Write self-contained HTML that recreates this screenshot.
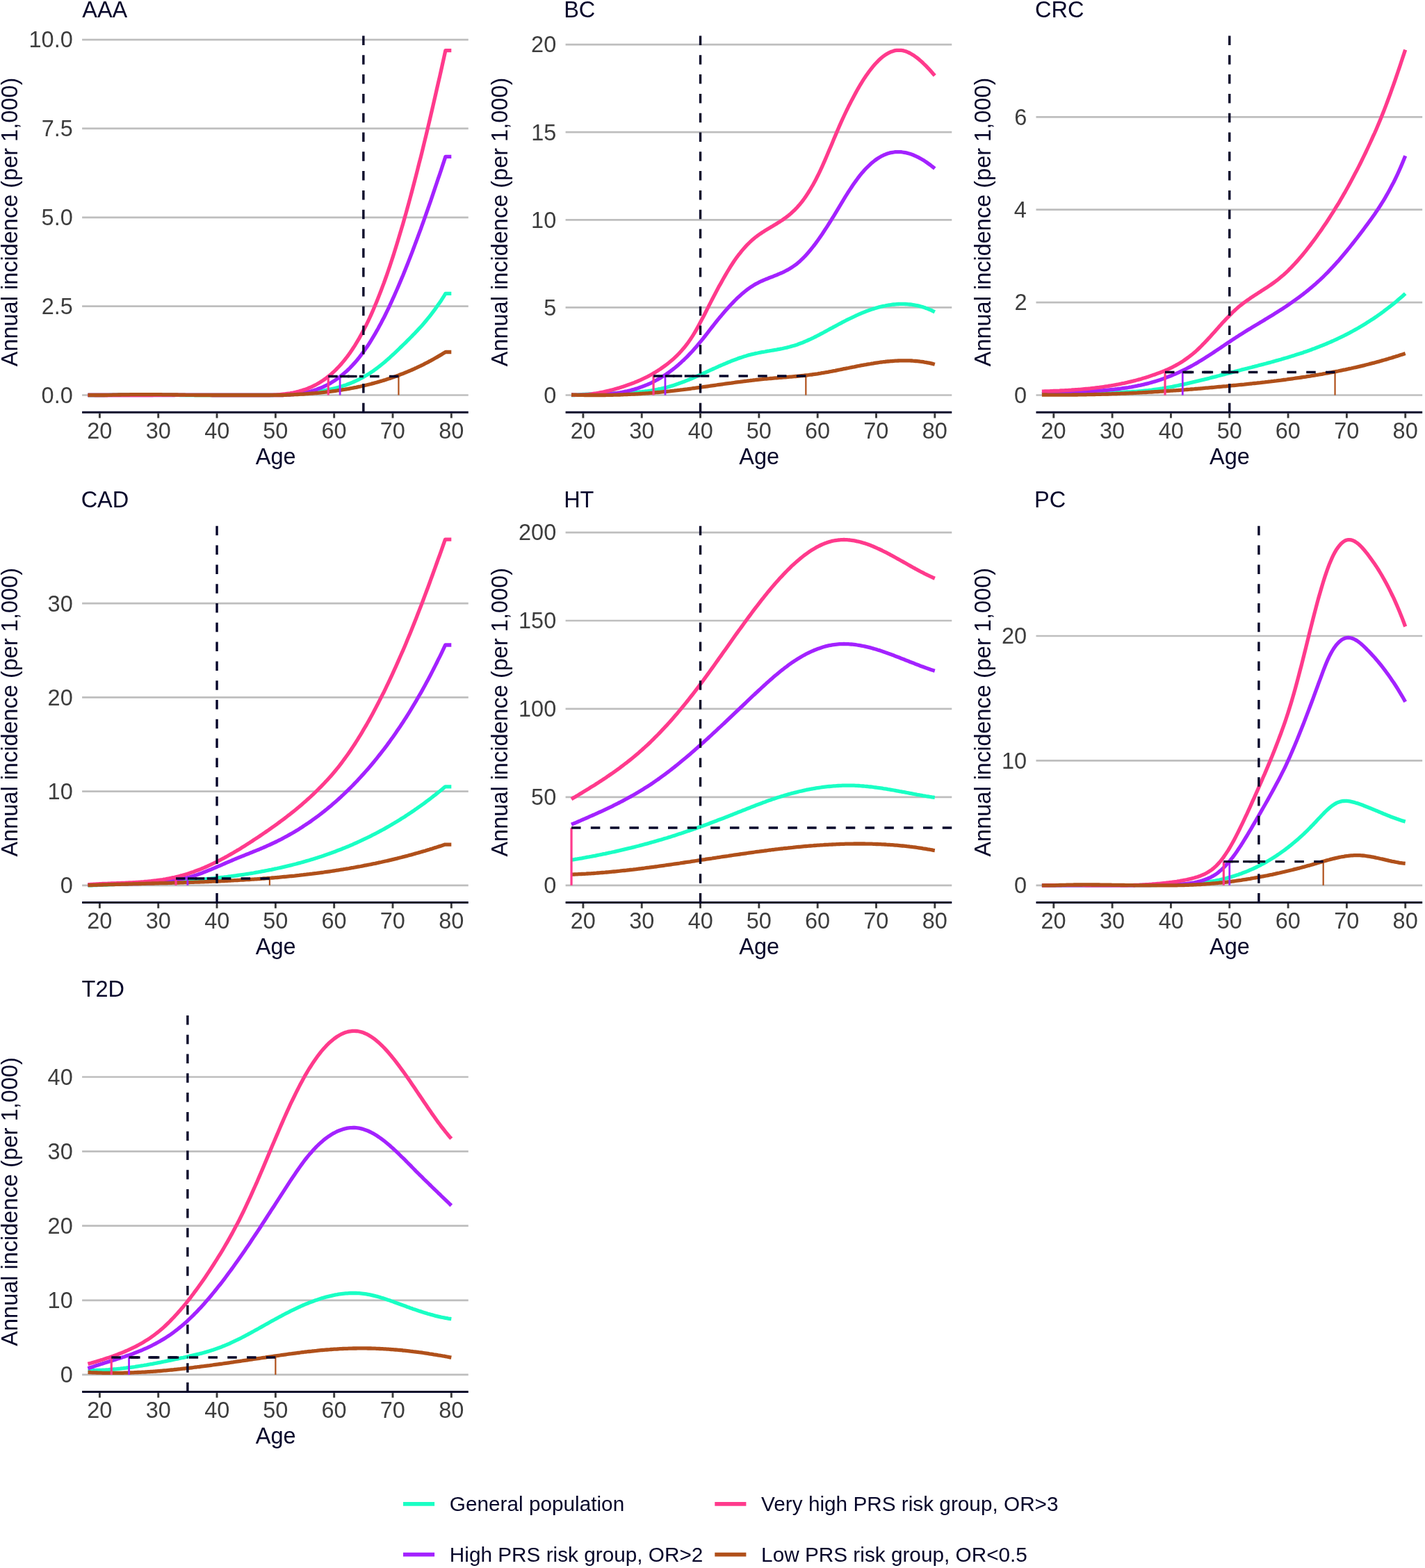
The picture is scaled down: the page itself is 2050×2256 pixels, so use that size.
<!DOCTYPE html>
<html><head><meta charset="utf-8"><title>Annual incidence by PRS group</title>
<style>
html,body{margin:0;padding:0;background:#fff;}
svg{display:block;}
text{font-family:"Liberation Sans",Arial,sans-serif;}
.tk{font-size:32.5px;fill:#3d3d3d;}
.tt{font-size:32.5px;fill:#06062a;}
.lg{font-size:29.75px;fill:#06062a;}
</style></head><body>
<svg width="2050" height="2256" viewBox="0 0 2050 2256">
<rect width="2050" height="2256" fill="#fff"/>
<line x1="118.10" y1="568.50" x2="673.77" y2="568.50" stroke="#bebebe" stroke-width="2.7"/>
<text x="59.59" y="579.80" class="tk">0.0</text>
<line x1="118.10" y1="440.65" x2="673.77" y2="440.65" stroke="#bebebe" stroke-width="2.7"/>
<text x="59.69" y="451.95" class="tk">2.5</text>
<line x1="118.10" y1="312.80" x2="673.77" y2="312.80" stroke="#bebebe" stroke-width="2.7"/>
<text x="59.59" y="324.10" class="tk">5.0</text>
<line x1="118.10" y1="184.95" x2="673.77" y2="184.95" stroke="#bebebe" stroke-width="2.7"/>
<text x="59.69" y="196.25" class="tk">7.5</text>
<line x1="118.10" y1="57.10" x2="673.77" y2="57.10" stroke="#bebebe" stroke-width="2.7"/>
<text x="41.52" y="68.40" class="tk">10.0</text>
<line x1="118.10" y1="593.20" x2="673.77" y2="593.20" stroke="#06062a" stroke-width="3"/>
<line x1="143.40" y1="594.70" x2="143.40" y2="601.50" stroke="#3a3a3a" stroke-width="2.9"/>
<text x="125.14" y="630.80" class="tk">20</text>
<line x1="227.72" y1="594.70" x2="227.72" y2="601.50" stroke="#3a3a3a" stroke-width="2.9"/>
<text x="209.66" y="630.80" class="tk">30</text>
<line x1="312.04" y1="594.70" x2="312.04" y2="601.50" stroke="#3a3a3a" stroke-width="2.9"/>
<text x="294.23" y="630.80" class="tk">40</text>
<line x1="396.36" y1="594.70" x2="396.36" y2="601.50" stroke="#3a3a3a" stroke-width="2.9"/>
<text x="378.27" y="630.80" class="tk">50</text>
<line x1="480.68" y1="594.70" x2="480.68" y2="601.50" stroke="#3a3a3a" stroke-width="2.9"/>
<text x="462.41" y="630.80" class="tk">60</text>
<line x1="565.00" y1="594.70" x2="565.00" y2="601.50" stroke="#3a3a3a" stroke-width="2.9"/>
<text x="546.73" y="630.80" class="tk">70</text>
<line x1="649.32" y1="594.70" x2="649.32" y2="601.50" stroke="#3a3a3a" stroke-width="2.9"/>
<text x="631.17" y="630.80" class="tk">80</text>
<text x="367.72" y="667.50" class="tt">Age</text>
<text x="118.24" y="24.60" class="tt">AAA</text>
<text transform="translate(25.20,320.50) rotate(-90)" x="-206.80" class="tt">Annual incidence (per 1,000)</text>
<path d="M126.5,568.5 L128.6,568.5 L130.8,568.5 L132.9,568.5 L135.0,568.5 L137.1,568.5 L139.2,568.5 L141.3,568.5 L143.4,568.5 L145.5,568.5 L147.6,568.5 L149.7,568.5 L151.8,568.4 L153.9,568.4 L156.0,568.3 L158.2,568.2 L160.3,568.2 L162.4,568.1 L164.5,568.1 L166.6,568.1 L168.7,568.0 L170.8,568.0 L172.9,568.0 L175.0,567.9 L177.1,567.9 L179.2,567.9 L181.3,567.8 L183.5,567.8 L185.6,567.8 L187.7,567.8 L189.8,567.8 L191.9,567.8 L194.0,567.8 L196.1,567.8 L198.2,567.8 L200.3,567.8 L202.4,567.8 L204.5,567.8 L206.6,567.8 L208.7,567.8 L210.9,567.8 L213.0,567.8 L215.1,567.8 L217.2,567.9 L219.3,567.9 L221.4,567.9 L223.5,567.9 L225.6,567.9 L227.7,568.0 L229.8,568.0 L231.9,568.0 L234.0,568.1 L236.2,568.1 L238.3,568.1 L240.4,568.1 L242.5,568.2 L244.6,568.2 L246.7,568.2 L248.8,568.3 L250.9,568.3 L253.0,568.3 L255.1,568.4 L257.2,568.4 L259.3,568.5 L261.4,568.5 L263.6,568.5 L265.7,568.5 L267.8,568.5 L269.9,568.5 L272.0,568.5 L274.1,568.5 L276.2,568.5 L278.3,568.5 L280.4,568.5 L282.5,568.5 L284.6,568.5 L286.7,568.5 L288.9,568.5 L291.0,568.5 L293.1,568.5 L295.2,568.5 L297.3,568.5 L299.4,568.5 L301.5,568.5 L303.6,568.5 L305.7,568.5 L307.8,568.5 L309.9,568.5 L312.0,568.5 L314.1,568.5 L316.3,568.5 L318.4,568.5 L320.5,568.5 L322.6,568.5 L324.7,568.5 L326.8,568.5 L328.9,568.5 L331.0,568.5 L333.1,568.5 L335.2,568.5 L337.3,568.5 L339.4,568.5 L341.6,568.5 L343.7,568.5 L345.8,568.5 L347.9,568.5 L350.0,568.5 L352.1,568.5 L354.2,568.5 L356.3,568.5 L358.4,568.5 L360.5,568.5 L362.6,568.5 L364.7,568.5 L366.8,568.5 L369.0,568.5 L371.1,568.5 L373.2,568.5 L375.3,568.5 L377.4,568.5 L379.5,568.5 L381.6,568.5 L383.7,568.5 L385.8,568.5 L387.9,568.5 L390.0,568.5 L392.1,568.5 L394.3,568.4 L396.4,568.3 L398.5,568.2 L400.6,568.1 L402.7,568.0 L404.8,567.9 L406.9,567.8 L409.0,567.7 L411.1,567.6 L413.2,567.4 L415.3,567.3 L417.4,567.2 L419.5,567.0 L421.7,566.9 L423.8,566.7 L425.9,566.6 L428.0,566.4 L430.1,566.3 L432.2,566.1 L434.3,565.9 L436.4,565.7 L438.5,565.6 L440.6,565.4 L442.7,565.1 L444.8,564.9 L447.0,564.7 L449.1,564.5 L451.2,564.2 L453.3,563.9 L455.4,563.7 L457.5,563.4 L459.6,563.1 L461.7,562.7 L463.8,562.4 L465.9,562.0 L468.0,561.6 L470.1,561.2 L472.2,560.8 L474.4,560.4 L476.5,559.9 L478.6,559.4 L480.7,558.9 L482.8,558.4 L484.9,557.8 L487.0,557.2 L489.1,556.6 L491.2,556.0 L493.3,555.3 L495.4,554.6 L497.5,553.9 L499.7,553.1 L501.8,552.3 L503.9,551.5 L506.0,550.6 L508.1,549.7 L510.2,548.8 L512.3,547.8 L514.4,546.8 L516.5,545.8 L518.6,544.7 L520.7,543.6 L522.8,542.4 L524.9,541.2 L527.1,540.0 L529.2,538.7 L531.3,537.4 L533.4,536.0 L535.5,534.6 L537.6,533.2 L539.7,531.7 L541.8,530.1 L543.9,528.5 L546.0,526.9 L548.1,525.2 L550.2,523.5 L552.4,521.7 L554.5,519.9 L556.6,518.1 L558.7,516.2 L560.8,514.4 L562.9,512.4 L565.0,510.5 L567.1,508.6 L569.2,506.6 L571.3,504.6 L573.4,502.6 L575.5,500.5 L577.6,498.5 L579.8,496.4 L581.9,494.4 L584.0,492.3 L586.1,490.2 L588.2,488.1 L590.3,486.0 L592.4,483.9 L594.5,481.7 L596.6,479.6 L598.7,477.3 L600.8,475.1 L602.9,472.8 L605.1,470.5 L607.2,468.2 L609.3,465.8 L611.4,463.3 L613.5,460.8 L615.6,458.2 L617.7,455.6 L619.8,453.0 L621.9,450.2 L624.0,447.4 L626.1,444.6 L628.2,441.6 L630.3,438.6 L632.5,435.5 L634.6,432.4 L636.7,429.1 L638.8,425.8 L640.9,422.4 L649.3,422.4" fill="none" stroke="#19ffc4" stroke-width="5.3" stroke-linejoin="round"/>
<path d="M126.5,568.5 L128.6,568.5 L130.8,568.5 L132.9,568.5 L135.0,568.5 L137.1,568.5 L139.2,568.5 L141.3,568.5 L143.4,568.5 L145.5,568.5 L147.6,568.5 L149.7,568.5 L151.8,568.5 L153.9,568.5 L156.0,568.5 L158.2,568.5 L160.3,568.5 L162.4,568.5 L164.5,568.5 L166.6,568.5 L168.7,568.5 L170.8,568.5 L172.9,568.5 L175.0,568.5 L177.1,568.5 L179.2,568.5 L181.3,568.5 L183.5,568.5 L185.6,568.5 L187.7,568.5 L189.8,568.5 L191.9,568.5 L194.0,568.5 L196.1,568.5 L198.2,568.5 L200.3,568.5 L202.4,568.5 L204.5,568.5 L206.6,568.5 L208.7,568.5 L210.9,568.5 L213.0,568.5 L215.1,568.5 L217.2,568.5 L219.3,568.5 L221.4,568.5 L223.5,568.5 L225.6,568.5 L227.7,568.5 L229.8,568.5 L231.9,568.5 L234.0,568.5 L236.2,568.5 L238.3,568.5 L240.4,568.5 L242.5,568.5 L244.6,568.5 L246.7,568.5 L248.8,568.5 L250.9,568.5 L253.0,568.4 L255.1,568.4 L257.2,568.4 L259.3,568.4 L261.4,568.4 L263.6,568.4 L265.7,568.4 L267.8,568.4 L269.9,568.4 L272.0,568.4 L274.1,568.4 L276.2,568.4 L278.3,568.4 L280.4,568.4 L282.5,568.4 L284.6,568.4 L286.7,568.4 L288.9,568.4 L291.0,568.4 L293.1,568.4 L295.2,568.4 L297.3,568.4 L299.4,568.4 L301.5,568.4 L303.6,568.4 L305.7,568.5 L307.8,568.5 L309.9,568.5 L312.0,568.5 L314.1,568.5 L316.3,568.5 L318.4,568.5 L320.5,568.5 L322.6,568.5 L324.7,568.5 L326.8,568.5 L328.9,568.5 L331.0,568.5 L333.1,568.5 L335.2,568.5 L337.3,568.5 L339.4,568.5 L341.6,568.5 L343.7,568.5 L345.8,568.5 L347.9,568.5 L350.0,568.5 L352.1,568.5 L354.2,568.5 L356.3,568.5 L358.4,568.5 L360.5,568.5 L362.6,568.5 L364.7,568.5 L366.8,568.5 L369.0,568.5 L371.1,568.5 L373.2,568.5 L375.3,568.5 L377.4,568.5 L379.5,568.5 L381.6,568.5 L383.7,568.5 L385.8,568.5 L387.9,568.5 L390.0,568.5 L392.1,568.5 L394.3,568.5 L396.4,568.5 L398.5,568.5 L400.6,568.5 L402.7,568.5 L404.8,568.5 L406.9,568.5 L409.0,568.4 L411.1,568.3 L413.2,568.2 L415.3,568.1 L417.4,567.9 L419.5,567.7 L421.7,567.5 L423.8,567.3 L425.9,567.0 L428.0,566.8 L430.1,566.5 L432.2,566.1 L434.3,565.8 L436.4,565.4 L438.5,565.0 L440.6,564.5 L442.7,564.0 L444.8,563.5 L447.0,563.0 L449.1,562.4 L451.2,561.8 L453.3,561.1 L455.4,560.4 L457.5,559.6 L459.6,558.8 L461.7,558.0 L463.8,557.1 L465.9,556.1 L468.0,555.1 L470.1,554.1 L472.2,553.0 L474.4,551.8 L476.5,550.6 L478.6,549.3 L480.7,548.0 L482.8,546.6 L484.9,545.1 L487.0,543.6 L489.1,542.0 L491.2,540.3 L493.3,538.6 L495.4,536.8 L497.5,534.9 L499.7,533.0 L501.8,531.0 L503.9,528.9 L506.0,526.7 L508.1,524.4 L510.2,522.1 L512.3,519.7 L514.4,517.2 L516.5,514.6 L518.6,511.9 L520.7,509.2 L522.8,506.3 L524.9,503.3 L527.1,500.3 L529.2,497.2 L531.3,494.0 L533.4,490.6 L535.5,487.2 L537.6,483.7 L539.7,480.1 L541.8,476.4 L543.9,472.7 L546.0,468.8 L548.1,464.9 L550.2,460.8 L552.4,456.7 L554.5,452.5 L556.6,448.2 L558.7,443.8 L560.8,439.4 L562.9,434.8 L565.0,430.2 L567.1,425.6 L569.2,420.8 L571.3,416.0 L573.4,411.1 L575.5,406.1 L577.6,401.1 L579.8,396.0 L581.9,390.8 L584.0,385.6 L586.1,380.3 L588.2,374.9 L590.3,369.5 L592.4,364.1 L594.5,358.5 L596.6,352.9 L598.7,347.3 L600.8,341.6 L602.9,335.9 L605.1,330.1 L607.2,324.2 L609.3,318.4 L611.4,312.4 L613.5,306.4 L615.6,300.4 L617.7,294.4 L619.8,288.3 L621.9,282.1 L624.0,275.9 L626.1,269.7 L628.2,263.5 L630.3,257.2 L632.5,250.9 L634.6,244.6 L636.7,238.2 L638.8,231.8 L640.9,225.4 L649.3,225.4" fill="none" stroke="#a322ff" stroke-width="5.3" stroke-linejoin="round"/>
<path d="M126.5,568.3 L128.6,568.4 L130.8,568.4 L132.9,568.4 L135.0,568.4 L137.1,568.5 L139.2,568.5 L141.3,568.5 L143.4,568.5 L145.5,568.5 L147.6,568.5 L149.7,568.5 L151.8,568.5 L153.9,568.5 L156.0,568.5 L158.2,568.5 L160.3,568.5 L162.4,568.5 L164.5,568.5 L166.6,568.5 L168.7,568.5 L170.8,568.5 L172.9,568.5 L175.0,568.5 L177.1,568.5 L179.2,568.5 L181.3,568.5 L183.5,568.5 L185.6,568.5 L187.7,568.5 L189.8,568.5 L191.9,568.5 L194.0,568.5 L196.1,568.5 L198.2,568.5 L200.3,568.5 L202.4,568.5 L204.5,568.5 L206.6,568.5 L208.7,568.5 L210.9,568.5 L213.0,568.5 L215.1,568.5 L217.2,568.5 L219.3,568.5 L221.4,568.4 L223.5,568.4 L225.6,568.4 L227.7,568.4 L229.8,568.4 L231.9,568.4 L234.0,568.4 L236.2,568.4 L238.3,568.3 L240.4,568.3 L242.5,568.3 L244.6,568.3 L246.7,568.3 L248.8,568.3 L250.9,568.3 L253.0,568.3 L255.1,568.3 L257.2,568.3 L259.3,568.3 L261.4,568.3 L263.6,568.3 L265.7,568.3 L267.8,568.3 L269.9,568.3 L272.0,568.3 L274.1,568.3 L276.2,568.3 L278.3,568.3 L280.4,568.3 L282.5,568.3 L284.6,568.3 L286.7,568.3 L288.9,568.3 L291.0,568.3 L293.1,568.3 L295.2,568.4 L297.3,568.4 L299.4,568.4 L301.5,568.4 L303.6,568.5 L305.7,568.5 L307.8,568.5 L309.9,568.5 L312.0,568.5 L314.1,568.5 L316.3,568.5 L318.4,568.5 L320.5,568.5 L322.6,568.5 L324.7,568.5 L326.8,568.5 L328.9,568.5 L331.0,568.5 L333.1,568.5 L335.2,568.5 L337.3,568.5 L339.4,568.5 L341.6,568.5 L343.7,568.5 L345.8,568.5 L347.9,568.5 L350.0,568.5 L352.1,568.5 L354.2,568.5 L356.3,568.5 L358.4,568.5 L360.5,568.5 L362.6,568.5 L364.7,568.5 L366.8,568.5 L369.0,568.5 L371.1,568.5 L373.2,568.5 L375.3,568.5 L377.4,568.5 L379.5,568.5 L381.6,568.5 L383.7,568.5 L385.8,568.5 L387.9,568.5 L390.0,568.4 L392.1,568.3 L394.3,568.2 L396.4,568.1 L398.5,568.0 L400.6,567.8 L402.7,567.6 L404.8,567.4 L406.9,567.2 L409.0,567.0 L411.1,566.7 L413.2,566.4 L415.3,566.1 L417.4,565.8 L419.5,565.4 L421.7,565.0 L423.8,564.5 L425.9,564.1 L428.0,563.5 L430.1,563.0 L432.2,562.4 L434.3,561.8 L436.4,561.1 L438.5,560.4 L440.6,559.7 L442.7,558.9 L444.8,558.0 L447.0,557.1 L449.1,556.2 L451.2,555.2 L453.3,554.1 L455.4,553.0 L457.5,551.8 L459.6,550.6 L461.7,549.3 L463.8,547.9 L465.9,546.5 L468.0,545.0 L470.1,543.4 L472.2,541.7 L474.4,540.0 L476.5,538.2 L478.6,536.3 L480.7,534.4 L482.8,532.4 L484.9,530.2 L487.0,528.0 L489.1,525.7 L491.2,523.4 L493.3,520.9 L495.4,518.3 L497.5,515.6 L499.7,512.9 L501.8,510.0 L503.9,507.1 L506.0,504.0 L508.1,500.8 L510.2,497.6 L512.3,494.2 L514.4,490.7 L516.5,487.1 L518.6,483.3 L520.7,479.5 L522.8,475.5 L524.9,471.4 L527.1,467.2 L529.2,462.9 L531.3,458.4 L533.4,453.8 L535.5,449.1 L537.6,444.2 L539.7,439.3 L541.8,434.2 L543.9,429.0 L546.0,423.6 L548.1,418.2 L550.2,412.6 L552.4,406.9 L554.5,401.0 L556.6,395.1 L558.7,389.0 L560.8,382.8 L562.9,376.5 L565.0,370.1 L567.1,363.5 L569.2,356.8 L571.3,350.0 L573.4,343.1 L575.5,336.1 L577.6,329.0 L579.8,321.7 L581.9,314.3 L584.0,306.9 L586.1,299.3 L588.2,291.6 L590.3,283.9 L592.4,276.0 L594.5,268.0 L596.6,260.0 L598.7,251.8 L600.8,243.6 L602.9,235.2 L605.1,226.8 L607.2,218.3 L609.3,209.7 L611.4,201.0 L613.5,192.3 L615.6,183.5 L617.7,174.6 L619.8,165.6 L621.9,156.6 L624.0,147.5 L626.1,138.3 L628.2,129.1 L630.3,119.8 L632.5,110.5 L634.6,101.1 L636.7,91.7 L638.8,82.2 L640.9,72.6 L649.3,72.6" fill="none" stroke="#ff3a8c" stroke-width="5.3" stroke-linejoin="round"/>
<path d="M126.5,568.5 L128.6,568.5 L130.8,568.5 L132.9,568.5 L135.0,568.5 L137.1,568.5 L139.2,568.5 L141.3,568.5 L143.4,568.5 L145.5,568.5 L147.6,568.5 L149.7,568.5 L151.8,568.5 L153.9,568.5 L156.0,568.4 L158.2,568.4 L160.3,568.3 L162.4,568.2 L164.5,568.2 L166.6,568.1 L168.7,568.1 L170.8,568.0 L172.9,568.0 L175.0,567.9 L177.1,567.9 L179.2,567.8 L181.3,567.8 L183.5,567.8 L185.6,567.8 L187.7,567.7 L189.8,567.7 L191.9,567.7 L194.0,567.7 L196.1,567.7 L198.2,567.6 L200.3,567.6 L202.4,567.6 L204.5,567.6 L206.6,567.6 L208.7,567.6 L210.9,567.6 L213.0,567.6 L215.1,567.6 L217.2,567.6 L219.3,567.6 L221.4,567.7 L223.5,567.7 L225.6,567.7 L227.7,567.7 L229.8,567.7 L231.9,567.7 L234.0,567.8 L236.2,567.8 L238.3,567.8 L240.4,567.8 L242.5,567.9 L244.6,567.9 L246.7,567.9 L248.8,568.0 L250.9,568.0 L253.0,568.0 L255.1,568.0 L257.2,568.1 L259.3,568.1 L261.4,568.1 L263.6,568.2 L265.7,568.2 L267.8,568.3 L269.9,568.3 L272.0,568.3 L274.1,568.4 L276.2,568.4 L278.3,568.4 L280.4,568.5 L282.5,568.5 L284.6,568.5 L286.7,568.5 L288.9,568.5 L291.0,568.5 L293.1,568.5 L295.2,568.5 L297.3,568.5 L299.4,568.5 L301.5,568.5 L303.6,568.5 L305.7,568.5 L307.8,568.5 L309.9,568.5 L312.0,568.5 L314.1,568.5 L316.3,568.5 L318.4,568.5 L320.5,568.5 L322.6,568.5 L324.7,568.5 L326.8,568.5 L328.9,568.5 L331.0,568.5 L333.1,568.5 L335.2,568.5 L337.3,568.5 L339.4,568.5 L341.6,568.5 L343.7,568.5 L345.8,568.5 L347.9,568.5 L350.0,568.5 L352.1,568.5 L354.2,568.5 L356.3,568.5 L358.4,568.5 L360.5,568.5 L362.6,568.5 L364.7,568.5 L366.8,568.5 L369.0,568.5 L371.1,568.5 L373.2,568.5 L375.3,568.5 L377.4,568.5 L379.5,568.5 L381.6,568.5 L383.7,568.5 L385.8,568.5 L387.9,568.5 L390.0,568.5 L392.1,568.5 L394.3,568.5 L396.4,568.5 L398.5,568.5 L400.6,568.5 L402.7,568.5 L404.8,568.5 L406.9,568.5 L409.0,568.4 L411.1,568.3 L413.2,568.2 L415.3,568.1 L417.4,568.0 L419.5,567.9 L421.7,567.8 L423.8,567.7 L425.9,567.6 L428.0,567.5 L430.1,567.4 L432.2,567.2 L434.3,567.1 L436.4,567.0 L438.5,566.8 L440.6,566.7 L442.7,566.5 L444.8,566.4 L447.0,566.2 L449.1,566.0 L451.2,565.8 L453.3,565.7 L455.4,565.5 L457.5,565.3 L459.6,565.1 L461.7,564.8 L463.8,564.6 L465.9,564.4 L468.0,564.2 L470.1,563.9 L472.2,563.7 L474.4,563.4 L476.5,563.2 L478.6,562.9 L480.7,562.6 L482.8,562.3 L484.9,562.0 L487.0,561.7 L489.1,561.4 L491.2,561.1 L493.3,560.7 L495.4,560.4 L497.5,560.0 L499.7,559.7 L501.8,559.3 L503.9,558.9 L506.0,558.5 L508.1,558.1 L510.2,557.7 L512.3,557.3 L514.4,556.8 L516.5,556.4 L518.6,556.0 L520.7,555.5 L522.8,555.0 L524.9,554.5 L527.1,554.0 L529.2,553.5 L531.3,553.0 L533.4,552.5 L535.5,551.9 L537.6,551.4 L539.7,550.8 L541.8,550.2 L543.9,549.6 L546.0,549.0 L548.1,548.4 L550.2,547.8 L552.4,547.1 L554.5,546.5 L556.6,545.8 L558.7,545.1 L560.8,544.4 L562.9,543.7 L565.0,543.0 L567.1,542.2 L569.2,541.5 L571.3,540.7 L573.4,539.9 L575.5,539.1 L577.6,538.3 L579.8,537.5 L581.9,536.6 L584.0,535.8 L586.1,534.9 L588.2,534.0 L590.3,533.1 L592.4,532.2 L594.5,531.3 L596.6,530.3 L598.7,529.4 L600.8,528.4 L602.9,527.4 L605.1,526.4 L607.2,525.3 L609.3,524.3 L611.4,523.2 L613.5,522.2 L615.6,521.1 L617.7,519.9 L619.8,518.8 L621.9,517.7 L624.0,516.5 L626.1,515.3 L628.2,514.1 L630.3,512.9 L632.5,511.6 L634.6,510.4 L636.7,509.1 L638.8,507.8 L640.9,506.5 L649.3,506.5" fill="none" stroke="#b0501a" stroke-width="5.3" stroke-linejoin="round"/>
<line x1="472.25" y1="568.50" x2="472.25" y2="541.50" stroke="#ff3a8c" stroke-width="3.2"/>
<line x1="489.11" y1="568.50" x2="489.11" y2="541.50" stroke="#a322ff" stroke-width="2.8"/>
<line x1="573.43" y1="568.50" x2="573.43" y2="541.50" stroke="#b0501a" stroke-width="2.2"/>
<path d="M472.25,541.50 L522.84,541.50" stroke="#06062a" stroke-width="3.4" stroke-dasharray="13.5 14.3" fill="none"/>
<path d="M489.11,541.50 L522.84,541.50" stroke="#06062a" stroke-width="3.4" stroke-dasharray="13.5 14.3" fill="none"/>
<path d="M573.43,541.50 L522.84,541.50" stroke="#06062a" stroke-width="3.4" stroke-dasharray="13.5 14.3" fill="none"/>
<line x1="522.84" y1="593.20" x2="522.84" y2="47.80" stroke="#06062a" stroke-width="3.4" stroke-dasharray="13.5 14.3"/>
<line x1="813.60" y1="568.50" x2="1369.27" y2="568.50" stroke="#bebebe" stroke-width="2.7"/>
<text x="782.20" y="579.80" class="tk">0</text>
<line x1="813.60" y1="442.40" x2="1369.27" y2="442.40" stroke="#bebebe" stroke-width="2.7"/>
<text x="782.29" y="453.70" class="tk">5</text>
<line x1="813.60" y1="316.30" x2="1369.27" y2="316.30" stroke="#bebebe" stroke-width="2.7"/>
<text x="764.12" y="327.60" class="tk">10</text>
<line x1="813.60" y1="190.20" x2="1369.27" y2="190.20" stroke="#bebebe" stroke-width="2.7"/>
<text x="764.22" y="201.50" class="tk">15</text>
<line x1="813.60" y1="64.10" x2="1369.27" y2="64.10" stroke="#bebebe" stroke-width="2.7"/>
<text x="764.12" y="75.40" class="tk">20</text>
<line x1="813.60" y1="593.20" x2="1369.27" y2="593.20" stroke="#06062a" stroke-width="3"/>
<line x1="838.90" y1="594.70" x2="838.90" y2="601.50" stroke="#3a3a3a" stroke-width="2.9"/>
<text x="820.64" y="630.80" class="tk">20</text>
<line x1="923.22" y1="594.70" x2="923.22" y2="601.50" stroke="#3a3a3a" stroke-width="2.9"/>
<text x="905.16" y="630.80" class="tk">30</text>
<line x1="1007.54" y1="594.70" x2="1007.54" y2="601.50" stroke="#3a3a3a" stroke-width="2.9"/>
<text x="989.73" y="630.80" class="tk">40</text>
<line x1="1091.86" y1="594.70" x2="1091.86" y2="601.50" stroke="#3a3a3a" stroke-width="2.9"/>
<text x="1073.77" y="630.80" class="tk">50</text>
<line x1="1176.18" y1="594.70" x2="1176.18" y2="601.50" stroke="#3a3a3a" stroke-width="2.9"/>
<text x="1157.91" y="630.80" class="tk">60</text>
<line x1="1260.50" y1="594.70" x2="1260.50" y2="601.50" stroke="#3a3a3a" stroke-width="2.9"/>
<text x="1242.23" y="630.80" class="tk">70</text>
<line x1="1344.82" y1="594.70" x2="1344.82" y2="601.50" stroke="#3a3a3a" stroke-width="2.9"/>
<text x="1326.67" y="630.80" class="tk">80</text>
<text x="1063.22" y="667.50" class="tt">Age</text>
<text x="811.14" y="24.60" class="tt">BC</text>
<text transform="translate(729.60,320.50) rotate(-90)" x="-206.80" class="tt">Annual incidence (per 1,000)</text>
<path d="M822.0,568.5 L824.1,568.5 L826.3,568.5 L828.4,568.3 L830.5,568.1 L832.6,567.9 L834.7,567.7 L836.8,567.6 L838.9,567.4 L841.0,567.3 L843.1,567.2 L845.2,567.1 L847.3,566.9 L849.4,566.8 L851.5,566.8 L853.7,566.7 L855.8,566.6 L857.9,566.5 L860.0,566.4 L862.1,566.4 L864.2,566.3 L866.3,566.3 L868.4,566.2 L870.5,566.1 L872.6,566.1 L874.7,566.0 L876.8,566.0 L879.0,565.9 L881.1,565.9 L883.2,565.8 L885.3,565.8 L887.4,565.7 L889.5,565.6 L891.6,565.6 L893.7,565.5 L895.8,565.4 L897.9,565.3 L900.0,565.2 L902.1,565.1 L904.2,565.0 L906.4,564.9 L908.5,564.8 L910.6,564.6 L912.7,564.5 L914.8,564.3 L916.9,564.1 L919.0,564.0 L921.1,563.8 L923.2,563.6 L925.3,563.3 L927.4,563.1 L929.5,562.8 L931.7,562.6 L933.8,562.3 L935.9,562.0 L938.0,561.7 L940.1,561.3 L942.2,560.9 L944.3,560.6 L946.4,560.2 L948.5,559.7 L950.6,559.3 L952.7,558.8 L954.8,558.3 L956.9,557.8 L959.1,557.3 L961.2,556.7 L963.3,556.1 L965.4,555.5 L967.5,554.9 L969.6,554.2 L971.7,553.5 L973.8,552.8 L975.9,552.1 L978.0,551.3 L980.1,550.6 L982.2,549.8 L984.4,549.0 L986.5,548.1 L988.6,547.3 L990.7,546.4 L992.8,545.6 L994.9,544.7 L997.0,543.8 L999.1,542.9 L1001.2,541.9 L1003.3,541.0 L1005.4,540.1 L1007.5,539.1 L1009.6,538.2 L1011.8,537.2 L1013.9,536.3 L1016.0,535.3 L1018.1,534.4 L1020.2,533.4 L1022.3,532.4 L1024.4,531.5 L1026.5,530.5 L1028.6,529.6 L1030.7,528.6 L1032.8,527.7 L1034.9,526.7 L1037.1,525.8 L1039.2,524.9 L1041.3,524.0 L1043.4,523.1 L1045.5,522.2 L1047.6,521.3 L1049.7,520.5 L1051.8,519.6 L1053.9,518.8 L1056.0,518.0 L1058.1,517.2 L1060.2,516.4 L1062.3,515.6 L1064.5,514.9 L1066.6,514.2 L1068.7,513.5 L1070.8,512.8 L1072.9,512.2 L1075.0,511.5 L1077.1,510.9 L1079.2,510.4 L1081.3,509.8 L1083.4,509.3 L1085.5,508.9 L1087.6,508.4 L1089.8,508.0 L1091.9,507.5 L1094.0,507.1 L1096.1,506.7 L1098.2,506.3 L1100.3,506.0 L1102.4,505.6 L1104.5,505.2 L1106.6,504.9 L1108.7,504.5 L1110.8,504.2 L1112.9,503.8 L1115.0,503.4 L1117.2,503.1 L1119.3,502.7 L1121.4,502.3 L1123.5,501.9 L1125.6,501.5 L1127.7,501.0 L1129.8,500.5 L1131.9,500.1 L1134.0,499.5 L1136.1,499.0 L1138.2,498.4 L1140.3,497.8 L1142.5,497.2 L1144.6,496.6 L1146.7,495.9 L1148.8,495.1 L1150.9,494.3 L1153.0,493.5 L1155.1,492.7 L1157.2,491.8 L1159.3,490.9 L1161.4,490.0 L1163.5,489.0 L1165.6,488.1 L1167.7,487.1 L1169.9,486.1 L1172.0,485.0 L1174.1,484.0 L1176.2,482.9 L1178.3,481.8 L1180.4,480.7 L1182.5,479.6 L1184.6,478.5 L1186.7,477.3 L1188.8,476.2 L1190.9,475.0 L1193.0,473.9 L1195.2,472.7 L1197.3,471.6 L1199.4,470.4 L1201.5,469.3 L1203.6,468.2 L1205.7,467.0 L1207.8,465.9 L1209.9,464.8 L1212.0,463.7 L1214.1,462.6 L1216.2,461.5 L1218.3,460.4 L1220.4,459.3 L1222.6,458.3 L1224.7,457.3 L1226.8,456.3 L1228.9,455.3 L1231.0,454.3 L1233.1,453.4 L1235.2,452.4 L1237.3,451.5 L1239.4,450.6 L1241.5,449.8 L1243.6,448.9 L1245.7,448.1 L1247.9,447.3 L1250.0,446.6 L1252.1,445.8 L1254.2,445.1 L1256.3,444.4 L1258.4,443.8 L1260.5,443.1 L1262.6,442.5 L1264.7,441.9 L1266.8,441.4 L1268.9,440.9 L1271.0,440.4 L1273.1,440.0 L1275.3,439.5 L1277.4,439.2 L1279.5,438.8 L1281.6,438.5 L1283.7,438.2 L1285.8,438.0 L1287.9,437.8 L1290.0,437.6 L1292.1,437.5 L1294.2,437.4 L1296.3,437.4 L1298.4,437.4 L1300.6,437.4 L1302.7,437.5 L1304.8,437.6 L1306.9,437.8 L1309.0,438.0 L1311.1,438.2 L1313.2,438.5 L1315.3,438.9 L1317.4,439.3 L1319.5,439.7 L1321.6,440.2 L1323.7,440.7 L1325.8,441.3 L1328.0,441.9 L1330.1,442.6 L1332.2,443.4 L1334.3,444.1 L1336.4,445.0 L1338.5,445.9 L1340.6,446.8 L1342.7,447.8 L1344.8,448.9" fill="none" stroke="#19ffc4" stroke-width="5.3" stroke-linejoin="round"/>
<path d="M822.0,568.2 L824.1,568.2 L826.3,568.3 L828.4,568.3 L830.5,568.3 L832.6,568.3 L834.7,568.3 L836.8,568.3 L838.9,568.4 L841.0,568.4 L843.1,568.3 L845.2,568.3 L847.3,568.3 L849.4,568.3 L851.5,568.2 L853.7,568.2 L855.8,568.1 L857.9,568.1 L860.0,568.0 L862.1,567.9 L864.2,567.8 L866.3,567.7 L868.4,567.5 L870.5,567.4 L872.6,567.2 L874.7,567.0 L876.8,566.8 L879.0,566.6 L881.1,566.4 L883.2,566.1 L885.3,565.8 L887.4,565.5 L889.5,565.2 L891.6,564.9 L893.7,564.5 L895.8,564.1 L897.9,563.7 L900.0,563.2 L902.1,562.8 L904.2,562.3 L906.4,561.8 L908.5,561.2 L910.6,560.7 L912.7,560.0 L914.8,559.4 L916.9,558.8 L919.0,558.1 L921.1,557.3 L923.2,556.6 L925.3,555.8 L927.4,554.9 L929.5,554.1 L931.7,553.2 L933.8,552.3 L935.9,551.3 L938.0,550.3 L940.1,549.2 L942.2,548.1 L944.3,547.0 L946.4,545.9 L948.5,544.6 L950.6,543.4 L952.7,542.1 L954.8,540.8 L956.9,539.4 L959.1,538.0 L961.2,536.5 L963.3,535.0 L965.4,533.4 L967.5,531.8 L969.6,530.2 L971.7,528.5 L973.8,526.7 L975.9,524.9 L978.0,523.1 L980.1,521.2 L982.2,519.2 L984.4,517.2 L986.5,515.2 L988.6,513.1 L990.7,510.9 L992.8,508.7 L994.9,506.5 L997.0,504.2 L999.1,501.8 L1001.2,499.4 L1003.3,497.0 L1005.4,494.4 L1007.5,491.9 L1009.6,489.3 L1011.8,486.7 L1013.9,484.0 L1016.0,481.3 L1018.1,478.6 L1020.2,475.9 L1022.3,473.2 L1024.4,470.5 L1026.5,467.8 L1028.6,465.1 L1030.7,462.5 L1032.8,459.9 L1034.9,457.3 L1037.1,454.8 L1039.2,452.2 L1041.3,449.8 L1043.4,447.3 L1045.5,444.9 L1047.6,442.6 L1049.7,440.3 L1051.8,438.0 L1053.9,435.8 L1056.0,433.6 L1058.1,431.5 L1060.2,429.4 L1062.3,427.4 L1064.5,425.5 L1066.6,423.6 L1068.7,421.8 L1070.8,420.0 L1072.9,418.3 L1075.0,416.7 L1077.1,415.1 L1079.2,413.6 L1081.3,412.2 L1083.4,410.9 L1085.5,409.6 L1087.6,408.4 L1089.8,407.3 L1091.9,406.2 L1094.0,405.2 L1096.1,404.2 L1098.2,403.3 L1100.3,402.4 L1102.4,401.5 L1104.5,400.7 L1106.6,399.8 L1108.7,399.0 L1110.8,398.2 L1112.9,397.4 L1115.0,396.5 L1117.2,395.7 L1119.3,394.8 L1121.4,393.9 L1123.5,393.0 L1125.6,392.1 L1127.7,391.1 L1129.8,390.0 L1131.9,388.9 L1134.0,387.8 L1136.1,386.6 L1138.2,385.3 L1140.3,383.9 L1142.5,382.4 L1144.6,380.9 L1146.7,379.3 L1148.8,377.5 L1150.9,375.7 L1153.0,373.7 L1155.1,371.7 L1157.2,369.5 L1159.3,367.3 L1161.4,364.9 L1163.5,362.5 L1165.6,360.0 L1167.7,357.4 L1169.9,354.7 L1172.0,352.0 L1174.1,349.1 L1176.2,346.2 L1178.3,343.3 L1180.4,340.2 L1182.5,337.2 L1184.6,334.0 L1186.7,330.8 L1188.8,327.6 L1190.9,324.3 L1193.0,321.0 L1195.2,317.6 L1197.3,314.2 L1199.4,310.8 L1201.5,307.3 L1203.6,303.8 L1205.7,300.3 L1207.8,296.8 L1209.9,293.3 L1212.0,289.8 L1214.1,286.4 L1216.2,282.9 L1218.3,279.6 L1220.4,276.2 L1222.6,272.9 L1224.7,269.7 L1226.8,266.6 L1228.9,263.5 L1231.0,260.6 L1233.1,257.7 L1235.2,254.9 L1237.3,252.2 L1239.4,249.6 L1241.5,247.2 L1243.6,244.8 L1245.7,242.5 L1247.9,240.3 L1250.0,238.3 L1252.1,236.3 L1254.2,234.4 L1256.3,232.7 L1258.4,231.0 L1260.5,229.5 L1262.6,228.0 L1264.7,226.7 L1266.8,225.5 L1268.9,224.3 L1271.0,223.3 L1273.1,222.4 L1275.3,221.6 L1277.4,220.8 L1279.5,220.2 L1281.6,219.7 L1283.7,219.3 L1285.8,219.0 L1287.9,218.7 L1290.0,218.6 L1292.1,218.6 L1294.2,218.6 L1296.3,218.7 L1298.4,219.0 L1300.6,219.3 L1302.7,219.7 L1304.8,220.1 L1306.9,220.7 L1309.0,221.3 L1311.1,222.0 L1313.2,222.8 L1315.3,223.7 L1317.4,224.6 L1319.5,225.6 L1321.6,226.7 L1323.7,227.8 L1325.8,229.0 L1328.0,230.3 L1330.1,231.6 L1332.2,233.0 L1334.3,234.5 L1336.4,236.0 L1338.5,237.5 L1340.6,239.2 L1342.7,240.8 L1344.8,242.6" fill="none" stroke="#a322ff" stroke-width="5.3" stroke-linejoin="round"/>
<path d="M822.0,568.3 L824.1,568.4 L826.3,568.4 L828.4,568.4 L830.5,568.4 L832.6,568.4 L834.7,568.3 L836.8,568.2 L838.9,568.1 L841.0,568.0 L843.1,567.8 L845.2,567.6 L847.3,567.4 L849.4,567.1 L851.5,566.8 L853.7,566.5 L855.8,566.2 L857.9,565.9 L860.0,565.5 L862.1,565.1 L864.2,564.7 L866.3,564.3 L868.4,563.9 L870.5,563.4 L872.6,562.9 L874.7,562.4 L876.8,561.9 L879.0,561.3 L881.1,560.8 L883.2,560.2 L885.3,559.6 L887.4,559.0 L889.5,558.4 L891.6,557.7 L893.7,557.1 L895.8,556.4 L897.9,555.7 L900.0,555.0 L902.1,554.3 L904.2,553.5 L906.4,552.8 L908.5,552.0 L910.6,551.2 L912.7,550.4 L914.8,549.5 L916.9,548.7 L919.0,547.8 L921.1,546.9 L923.2,545.9 L925.3,544.9 L927.4,543.9 L929.5,542.9 L931.7,541.8 L933.8,540.7 L935.9,539.5 L938.0,538.4 L940.1,537.1 L942.2,535.9 L944.3,534.6 L946.4,533.3 L948.5,531.9 L950.6,530.5 L952.7,529.0 L954.8,527.5 L956.9,526.0 L959.1,524.4 L961.2,522.7 L963.3,521.0 L965.4,519.3 L967.5,517.5 L969.6,515.6 L971.7,513.6 L973.8,511.6 L975.9,509.5 L978.0,507.3 L980.1,505.0 L982.2,502.6 L984.4,500.1 L986.5,497.4 L988.6,494.7 L990.7,491.8 L992.8,488.8 L994.9,485.6 L997.0,482.3 L999.1,478.9 L1001.2,475.3 L1003.3,471.6 L1005.4,467.8 L1007.5,463.8 L1009.6,459.8 L1011.8,455.8 L1013.9,451.7 L1016.0,447.5 L1018.1,443.4 L1020.2,439.3 L1022.3,435.1 L1024.4,431.0 L1026.5,427.0 L1028.6,423.0 L1030.7,419.0 L1032.8,415.0 L1034.9,411.1 L1037.1,407.3 L1039.2,403.5 L1041.3,399.8 L1043.4,396.1 L1045.5,392.5 L1047.6,389.0 L1049.7,385.6 L1051.8,382.2 L1053.9,379.0 L1056.0,375.8 L1058.1,372.8 L1060.2,369.8 L1062.3,367.0 L1064.5,364.3 L1066.6,361.6 L1068.7,359.1 L1070.8,356.7 L1072.9,354.4 L1075.0,352.2 L1077.1,350.1 L1079.2,348.0 L1081.3,346.1 L1083.4,344.3 L1085.5,342.5 L1087.6,340.8 L1089.8,339.2 L1091.9,337.7 L1094.0,336.2 L1096.1,334.8 L1098.2,333.4 L1100.3,332.1 L1102.4,330.8 L1104.5,329.5 L1106.6,328.2 L1108.7,326.9 L1110.8,325.7 L1112.9,324.4 L1115.0,323.2 L1117.2,321.9 L1119.3,320.6 L1121.4,319.3 L1123.5,317.9 L1125.6,316.5 L1127.7,315.0 L1129.8,313.5 L1131.9,311.9 L1134.0,310.3 L1136.1,308.6 L1138.2,306.7 L1140.3,304.8 L1142.5,302.8 L1144.6,300.7 L1146.7,298.5 L1148.8,296.1 L1150.9,293.7 L1153.0,291.1 L1155.1,288.3 L1157.2,285.5 L1159.3,282.4 L1161.4,279.3 L1163.5,276.0 L1165.6,272.6 L1167.7,269.0 L1169.9,265.3 L1172.0,261.4 L1174.1,257.4 L1176.2,253.3 L1178.3,249.1 L1180.4,244.7 L1182.5,240.1 L1184.6,235.4 L1186.7,230.6 L1188.8,225.7 L1190.9,220.8 L1193.0,215.8 L1195.2,210.7 L1197.3,205.7 L1199.4,200.6 L1201.5,195.6 L1203.6,190.6 L1205.7,185.7 L1207.8,180.9 L1209.9,176.2 L1212.0,171.5 L1214.1,167.0 L1216.2,162.5 L1218.3,158.1 L1220.4,153.8 L1222.6,149.6 L1224.7,145.4 L1226.8,141.4 L1228.9,137.4 L1231.0,133.6 L1233.1,129.8 L1235.2,126.1 L1237.3,122.5 L1239.4,119.1 L1241.5,115.7 L1243.6,112.4 L1245.7,109.3 L1247.9,106.2 L1250.0,103.3 L1252.1,100.5 L1254.2,97.8 L1256.3,95.2 L1258.4,92.8 L1260.5,90.5 L1262.6,88.3 L1264.7,86.2 L1266.8,84.3 L1268.9,82.5 L1271.0,80.8 L1273.1,79.3 L1275.3,77.9 L1277.4,76.7 L1279.5,75.6 L1281.6,74.6 L1283.7,73.9 L1285.8,73.2 L1287.9,72.7 L1290.0,72.4 L1292.1,72.3 L1294.2,72.3 L1296.3,72.4 L1298.4,72.7 L1300.6,73.2 L1302.7,73.8 L1304.8,74.6 L1306.9,75.5 L1309.0,76.5 L1311.1,77.7 L1313.2,79.0 L1315.3,80.3 L1317.4,81.8 L1319.5,83.4 L1321.6,85.1 L1323.7,86.9 L1325.8,88.8 L1328.0,90.8 L1330.1,92.8 L1332.2,94.9 L1334.3,97.1 L1336.4,99.3 L1338.5,101.6 L1340.6,104.0 L1342.7,106.4 L1344.8,108.8" fill="none" stroke="#ff3a8c" stroke-width="5.3" stroke-linejoin="round"/>
<path d="M822.0,568.0 L824.1,568.1 L826.3,568.2 L828.4,568.2 L830.5,568.3 L832.6,568.3 L834.7,568.4 L836.8,568.4 L838.9,568.4 L841.0,568.5 L843.1,568.5 L845.2,568.5 L847.3,568.5 L849.4,568.5 L851.5,568.5 L853.7,568.5 L855.8,568.5 L857.9,568.5 L860.0,568.5 L862.1,568.5 L864.2,568.5 L866.3,568.5 L868.4,568.5 L870.5,568.5 L872.6,568.4 L874.7,568.4 L876.8,568.4 L879.0,568.3 L881.1,568.3 L883.2,568.2 L885.3,568.2 L887.4,568.1 L889.5,568.0 L891.6,568.0 L893.7,567.9 L895.8,567.8 L897.9,567.7 L900.0,567.6 L902.1,567.5 L904.2,567.4 L906.4,567.3 L908.5,567.2 L910.6,567.1 L912.7,567.0 L914.8,566.9 L916.9,566.8 L919.0,566.6 L921.1,566.5 L923.2,566.4 L925.3,566.2 L927.4,566.1 L929.5,565.9 L931.7,565.8 L933.8,565.6 L935.9,565.4 L938.0,565.3 L940.1,565.1 L942.2,564.9 L944.3,564.7 L946.4,564.5 L948.5,564.3 L950.6,564.1 L952.7,563.9 L954.8,563.7 L956.9,563.5 L959.1,563.3 L961.2,563.1 L963.3,562.9 L965.4,562.6 L967.5,562.4 L969.6,562.2 L971.7,561.9 L973.8,561.7 L975.9,561.4 L978.0,561.2 L980.1,560.9 L982.2,560.7 L984.4,560.4 L986.5,560.1 L988.6,559.9 L990.7,559.6 L992.8,559.3 L994.9,559.0 L997.0,558.7 L999.1,558.5 L1001.2,558.2 L1003.3,557.9 L1005.4,557.6 L1007.5,557.3 L1009.6,557.0 L1011.8,556.7 L1013.9,556.4 L1016.0,556.1 L1018.1,555.8 L1020.2,555.5 L1022.3,555.2 L1024.4,554.9 L1026.5,554.6 L1028.6,554.3 L1030.7,554.0 L1032.8,553.7 L1034.9,553.4 L1037.1,553.1 L1039.2,552.8 L1041.3,552.5 L1043.4,552.2 L1045.5,551.9 L1047.6,551.6 L1049.7,551.3 L1051.8,551.1 L1053.9,550.8 L1056.0,550.5 L1058.1,550.2 L1060.2,549.9 L1062.3,549.6 L1064.5,549.4 L1066.6,549.1 L1068.7,548.8 L1070.8,548.5 L1072.9,548.3 L1075.0,548.0 L1077.1,547.8 L1079.2,547.5 L1081.3,547.3 L1083.4,547.0 L1085.5,546.8 L1087.6,546.5 L1089.8,546.3 L1091.9,546.1 L1094.0,545.9 L1096.1,545.7 L1098.2,545.4 L1100.3,545.2 L1102.4,545.0 L1104.5,544.8 L1106.6,544.7 L1108.7,544.5 L1110.8,544.3 L1112.9,544.1 L1115.0,543.9 L1117.2,543.8 L1119.3,543.6 L1121.4,543.4 L1123.5,543.3 L1125.6,543.1 L1127.7,542.9 L1129.8,542.8 L1131.9,542.6 L1134.0,542.4 L1136.1,542.2 L1138.2,542.1 L1140.3,541.9 L1142.5,541.7 L1144.6,541.5 L1146.7,541.3 L1148.8,541.1 L1150.9,540.9 L1153.0,540.7 L1155.1,540.5 L1157.2,540.2 L1159.3,540.0 L1161.4,539.8 L1163.5,539.5 L1165.6,539.2 L1167.7,539.0 L1169.9,538.7 L1172.0,538.4 L1174.1,538.1 L1176.2,537.8 L1178.3,537.4 L1180.4,537.1 L1182.5,536.7 L1184.6,536.4 L1186.7,536.0 L1188.8,535.6 L1190.9,535.3 L1193.0,534.9 L1195.2,534.5 L1197.3,534.1 L1199.4,533.7 L1201.5,533.3 L1203.6,532.8 L1205.7,532.4 L1207.8,532.0 L1209.9,531.6 L1212.0,531.2 L1214.1,530.7 L1216.2,530.3 L1218.3,529.9 L1220.4,529.5 L1222.6,529.0 L1224.7,528.6 L1226.8,528.2 L1228.9,527.8 L1231.0,527.3 L1233.1,526.9 L1235.2,526.5 L1237.3,526.1 L1239.4,525.7 L1241.5,525.3 L1243.6,524.9 L1245.7,524.6 L1247.9,524.2 L1250.0,523.8 L1252.1,523.5 L1254.2,523.1 L1256.3,522.8 L1258.4,522.4 L1260.5,522.1 L1262.6,521.8 L1264.7,521.5 L1266.8,521.2 L1268.9,521.0 L1271.0,520.7 L1273.1,520.5 L1275.3,520.2 L1277.4,520.0 L1279.5,519.8 L1281.6,519.6 L1283.7,519.5 L1285.8,519.3 L1287.9,519.2 L1290.0,519.1 L1292.1,519.0 L1294.2,518.9 L1296.3,518.8 L1298.4,518.8 L1300.6,518.8 L1302.7,518.8 L1304.8,518.8 L1306.9,518.9 L1309.0,518.9 L1311.1,519.0 L1313.2,519.2 L1315.3,519.3 L1317.4,519.5 L1319.5,519.7 L1321.6,519.9 L1323.7,520.2 L1325.8,520.4 L1328.0,520.7 L1330.1,521.1 L1332.2,521.4 L1334.3,521.8 L1336.4,522.2 L1338.5,522.7 L1340.6,523.2 L1342.7,523.7 L1344.8,524.3" fill="none" stroke="#b0501a" stroke-width="5.3" stroke-linejoin="round"/>
<line x1="940.08" y1="568.50" x2="940.08" y2="541.01" stroke="#ff3a8c" stroke-width="3.2"/>
<line x1="956.95" y1="568.50" x2="956.95" y2="541.01" stroke="#a322ff" stroke-width="2.8"/>
<line x1="1159.32" y1="568.50" x2="1159.32" y2="541.01" stroke="#b0501a" stroke-width="2.2"/>
<path d="M940.08,541.01 L1007.54,541.01" stroke="#06062a" stroke-width="3.4" stroke-dasharray="13.5 14.3" fill="none"/>
<path d="M956.95,541.01 L1007.54,541.01" stroke="#06062a" stroke-width="3.4" stroke-dasharray="13.5 14.3" fill="none"/>
<path d="M1159.32,541.01 L1007.54,541.01" stroke="#06062a" stroke-width="3.4" stroke-dasharray="13.5 14.3" fill="none"/>
<line x1="1007.54" y1="593.20" x2="1007.54" y2="47.80" stroke="#06062a" stroke-width="3.4" stroke-dasharray="13.5 14.3"/>
<line x1="1490.50" y1="568.50" x2="2046.17" y2="568.50" stroke="#bebebe" stroke-width="2.7"/>
<text x="1459.10" y="579.80" class="tk">0</text>
<line x1="1490.50" y1="435.10" x2="2046.17" y2="435.10" stroke="#bebebe" stroke-width="2.7"/>
<text x="1459.46" y="446.40" class="tk">2</text>
<line x1="1490.50" y1="301.70" x2="2046.17" y2="301.70" stroke="#bebebe" stroke-width="2.7"/>
<text x="1458.78" y="313.00" class="tk">4</text>
<line x1="1490.50" y1="168.30" x2="2046.17" y2="168.30" stroke="#bebebe" stroke-width="2.7"/>
<text x="1459.26" y="179.60" class="tk">6</text>
<line x1="1490.50" y1="593.20" x2="2046.17" y2="593.20" stroke="#06062a" stroke-width="3"/>
<line x1="1515.80" y1="594.70" x2="1515.80" y2="601.50" stroke="#3a3a3a" stroke-width="2.9"/>
<text x="1497.54" y="630.80" class="tk">20</text>
<line x1="1600.12" y1="594.70" x2="1600.12" y2="601.50" stroke="#3a3a3a" stroke-width="2.9"/>
<text x="1582.06" y="630.80" class="tk">30</text>
<line x1="1684.44" y1="594.70" x2="1684.44" y2="601.50" stroke="#3a3a3a" stroke-width="2.9"/>
<text x="1666.63" y="630.80" class="tk">40</text>
<line x1="1768.76" y1="594.70" x2="1768.76" y2="601.50" stroke="#3a3a3a" stroke-width="2.9"/>
<text x="1750.67" y="630.80" class="tk">50</text>
<line x1="1853.08" y1="594.70" x2="1853.08" y2="601.50" stroke="#3a3a3a" stroke-width="2.9"/>
<text x="1834.81" y="630.80" class="tk">60</text>
<line x1="1937.40" y1="594.70" x2="1937.40" y2="601.50" stroke="#3a3a3a" stroke-width="2.9"/>
<text x="1919.13" y="630.80" class="tk">70</text>
<line x1="2021.72" y1="594.70" x2="2021.72" y2="601.50" stroke="#3a3a3a" stroke-width="2.9"/>
<text x="2003.57" y="630.80" class="tk">80</text>
<text x="1740.12" y="667.50" class="tt">Age</text>
<text x="1489.05" y="24.60" class="tt">CRC</text>
<text transform="translate(1424.80,320.50) rotate(-90)" x="-206.80" class="tt">Annual incidence (per 1,000)</text>
<path d="M1498.9,566.8 L1501.0,566.7 L1503.2,566.5 L1505.3,566.3 L1507.4,566.2 L1509.5,566.1 L1511.6,565.9 L1513.7,565.8 L1515.8,565.7 L1517.9,565.6 L1520.0,565.5 L1522.1,565.4 L1524.2,565.4 L1526.3,565.3 L1528.4,565.2 L1530.6,565.2 L1532.7,565.1 L1534.8,565.1 L1536.9,565.0 L1539.0,565.0 L1541.1,564.9 L1543.2,564.9 L1545.3,564.9 L1547.4,564.9 L1549.5,564.9 L1551.6,564.8 L1553.7,564.8 L1555.9,564.8 L1558.0,564.8 L1560.1,564.8 L1562.2,564.8 L1564.3,564.8 L1566.4,564.8 L1568.5,564.8 L1570.6,564.8 L1572.7,564.8 L1574.8,564.8 L1576.9,564.8 L1579.0,564.8 L1581.1,564.8 L1583.3,564.8 L1585.4,564.8 L1587.5,564.8 L1589.6,564.7 L1591.7,564.7 L1593.8,564.7 L1595.9,564.7 L1598.0,564.7 L1600.1,564.6 L1602.2,564.6 L1604.3,564.5 L1606.4,564.5 L1608.6,564.4 L1610.7,564.4 L1612.8,564.3 L1614.9,564.3 L1617.0,564.2 L1619.1,564.1 L1621.2,564.0 L1623.3,563.9 L1625.4,563.8 L1627.5,563.7 L1629.6,563.5 L1631.7,563.4 L1633.8,563.3 L1636.0,563.1 L1638.1,563.0 L1640.2,562.8 L1642.3,562.6 L1644.4,562.4 L1646.5,562.2 L1648.6,562.0 L1650.7,561.8 L1652.8,561.5 L1654.9,561.3 L1657.0,561.0 L1659.1,560.7 L1661.3,560.4 L1663.4,560.1 L1665.5,559.8 L1667.6,559.5 L1669.7,559.2 L1671.8,558.9 L1673.9,558.5 L1676.0,558.2 L1678.1,557.8 L1680.2,557.4 L1682.3,557.0 L1684.4,556.7 L1686.5,556.3 L1688.7,555.8 L1690.8,555.4 L1692.9,555.0 L1695.0,554.6 L1697.1,554.1 L1699.2,553.7 L1701.3,553.3 L1703.4,552.8 L1705.5,552.3 L1707.6,551.9 L1709.7,551.4 L1711.8,550.9 L1714.0,550.4 L1716.1,549.9 L1718.2,549.4 L1720.3,548.9 L1722.4,548.4 L1724.5,547.9 L1726.6,547.4 L1728.7,546.9 L1730.8,546.4 L1732.9,545.9 L1735.0,545.3 L1737.1,544.8 L1739.2,544.3 L1741.4,543.7 L1743.5,543.2 L1745.6,542.7 L1747.7,542.1 L1749.8,541.6 L1751.9,541.0 L1754.0,540.5 L1756.1,539.9 L1758.2,539.4 L1760.3,538.8 L1762.4,538.3 L1764.5,537.7 L1766.7,537.2 L1768.8,536.6 L1770.9,536.1 L1773.0,535.5 L1775.1,535.0 L1777.2,534.4 L1779.3,533.9 L1781.4,533.3 L1783.5,532.8 L1785.6,532.2 L1787.7,531.7 L1789.8,531.2 L1791.9,530.6 L1794.1,530.1 L1796.2,529.5 L1798.3,529.0 L1800.4,528.5 L1802.5,527.9 L1804.6,527.4 L1806.7,526.8 L1808.8,526.3 L1810.9,525.7 L1813.0,525.2 L1815.1,524.6 L1817.2,524.1 L1819.4,523.5 L1821.5,523.0 L1823.6,522.4 L1825.7,521.8 L1827.8,521.3 L1829.9,520.7 L1832.0,520.1 L1834.1,519.5 L1836.2,518.9 L1838.3,518.4 L1840.4,517.8 L1842.5,517.2 L1844.6,516.5 L1846.8,515.9 L1848.9,515.3 L1851.0,514.7 L1853.1,514.1 L1855.2,513.4 L1857.3,512.8 L1859.4,512.1 L1861.5,511.5 L1863.6,510.8 L1865.7,510.1 L1867.8,509.4 L1869.9,508.8 L1872.1,508.1 L1874.2,507.4 L1876.3,506.6 L1878.4,505.9 L1880.5,505.2 L1882.6,504.4 L1884.7,503.7 L1886.8,502.9 L1888.9,502.1 L1891.0,501.4 L1893.1,500.6 L1895.2,499.8 L1897.3,498.9 L1899.5,498.1 L1901.6,497.3 L1903.7,496.4 L1905.8,495.6 L1907.9,494.7 L1910.0,493.8 L1912.1,492.9 L1914.2,492.0 L1916.3,491.0 L1918.4,490.1 L1920.5,489.1 L1922.6,488.2 L1924.8,487.2 L1926.9,486.2 L1929.0,485.2 L1931.1,484.1 L1933.2,483.1 L1935.3,482.0 L1937.4,481.0 L1939.5,479.9 L1941.6,478.8 L1943.7,477.6 L1945.8,476.5 L1947.9,475.3 L1950.0,474.2 L1952.2,473.0 L1954.3,471.8 L1956.4,470.5 L1958.5,469.3 L1960.6,468.0 L1962.7,466.7 L1964.8,465.4 L1966.9,464.1 L1969.0,462.8 L1971.1,461.4 L1973.2,460.0 L1975.3,458.7 L1977.5,457.2 L1979.6,455.8 L1981.7,454.3 L1983.8,452.9 L1985.9,451.4 L1988.0,449.8 L1990.1,448.3 L1992.2,446.7 L1994.3,445.1 L1996.4,443.5 L1998.5,441.9 L2000.6,440.3 L2002.7,438.6 L2004.9,436.9 L2007.0,435.2 L2009.1,433.4 L2011.2,431.6 L2013.3,429.8 L2015.4,428.0 L2017.5,426.2 L2019.6,424.3 L2021.7,422.4" fill="none" stroke="#19ffc4" stroke-width="5.3" stroke-linejoin="round"/>
<path d="M1498.9,566.4 L1501.0,566.3 L1503.2,566.1 L1505.3,566.0 L1507.4,565.8 L1509.5,565.7 L1511.6,565.5 L1513.7,565.4 L1515.8,565.3 L1517.9,565.2 L1520.0,565.1 L1522.1,564.9 L1524.2,564.8 L1526.3,564.7 L1528.4,564.6 L1530.6,564.5 L1532.7,564.4 L1534.8,564.4 L1536.9,564.3 L1539.0,564.2 L1541.1,564.1 L1543.2,564.0 L1545.3,563.9 L1547.4,563.8 L1549.5,563.7 L1551.6,563.6 L1553.7,563.5 L1555.9,563.4 L1558.0,563.3 L1560.1,563.3 L1562.2,563.2 L1564.3,563.0 L1566.4,562.9 L1568.5,562.8 L1570.6,562.7 L1572.7,562.6 L1574.8,562.5 L1576.9,562.3 L1579.0,562.2 L1581.1,562.1 L1583.3,561.9 L1585.4,561.8 L1587.5,561.6 L1589.6,561.4 L1591.7,561.3 L1593.8,561.1 L1595.9,560.9 L1598.0,560.7 L1600.1,560.5 L1602.2,560.3 L1604.3,560.0 L1606.4,559.8 L1608.6,559.5 L1610.7,559.3 L1612.8,559.0 L1614.9,558.7 L1617.0,558.4 L1619.1,558.1 L1621.2,557.8 L1623.3,557.5 L1625.4,557.1 L1627.5,556.8 L1629.6,556.4 L1631.7,556.0 L1633.8,555.6 L1636.0,555.2 L1638.1,554.7 L1640.2,554.3 L1642.3,553.8 L1644.4,553.4 L1646.5,552.9 L1648.6,552.3 L1650.7,551.8 L1652.8,551.3 L1654.9,550.7 L1657.0,550.1 L1659.1,549.5 L1661.3,548.9 L1663.4,548.2 L1665.5,547.6 L1667.6,546.9 L1669.7,546.2 L1671.8,545.4 L1673.9,544.7 L1676.0,543.9 L1678.1,543.1 L1680.2,542.3 L1682.3,541.5 L1684.4,540.7 L1686.5,539.8 L1688.7,538.9 L1690.8,538.0 L1692.9,537.1 L1695.0,536.1 L1697.1,535.2 L1699.2,534.2 L1701.3,533.1 L1703.4,532.1 L1705.5,531.1 L1707.6,530.0 L1709.7,528.9 L1711.8,527.8 L1714.0,526.6 L1716.1,525.5 L1718.2,524.3 L1720.3,523.1 L1722.4,521.9 L1724.5,520.6 L1726.6,519.3 L1728.7,518.1 L1730.8,516.8 L1732.9,515.4 L1735.0,514.1 L1737.1,512.8 L1739.2,511.4 L1741.4,510.0 L1743.5,508.6 L1745.6,507.2 L1747.7,505.8 L1749.8,504.4 L1751.9,503.0 L1754.0,501.6 L1756.1,500.2 L1758.2,498.8 L1760.3,497.4 L1762.4,495.9 L1764.5,494.5 L1766.7,493.1 L1768.8,491.7 L1770.9,490.3 L1773.0,488.9 L1775.1,487.5 L1777.2,486.1 L1779.3,484.7 L1781.4,483.4 L1783.5,482.0 L1785.6,480.7 L1787.7,479.4 L1789.8,478.1 L1791.9,476.7 L1794.1,475.4 L1796.2,474.1 L1798.3,472.9 L1800.4,471.6 L1802.5,470.3 L1804.6,469.0 L1806.7,467.7 L1808.8,466.5 L1810.9,465.2 L1813.0,463.9 L1815.1,462.7 L1817.2,461.4 L1819.4,460.1 L1821.5,458.8 L1823.6,457.6 L1825.7,456.3 L1827.8,455.0 L1829.9,453.7 L1832.0,452.4 L1834.1,451.1 L1836.2,449.8 L1838.3,448.4 L1840.4,447.1 L1842.5,445.7 L1844.6,444.4 L1846.8,443.0 L1848.9,441.6 L1851.0,440.2 L1853.1,438.8 L1855.2,437.3 L1857.3,435.9 L1859.4,434.4 L1861.5,432.9 L1863.6,431.4 L1865.7,429.9 L1867.8,428.4 L1869.9,426.8 L1872.1,425.2 L1874.2,423.6 L1876.3,421.9 L1878.4,420.3 L1880.5,418.6 L1882.6,416.9 L1884.7,415.1 L1886.8,413.4 L1888.9,411.6 L1891.0,409.7 L1893.1,407.9 L1895.2,406.0 L1897.3,404.1 L1899.5,402.1 L1901.6,400.1 L1903.7,398.1 L1905.8,396.0 L1907.9,393.9 L1910.0,391.8 L1912.1,389.6 L1914.2,387.4 L1916.3,385.2 L1918.4,382.9 L1920.5,380.6 L1922.6,378.2 L1924.8,375.9 L1926.9,373.5 L1929.0,371.0 L1931.1,368.5 L1933.2,366.0 L1935.3,363.5 L1937.4,361.0 L1939.5,358.4 L1941.6,355.8 L1943.7,353.2 L1945.8,350.5 L1947.9,347.8 L1950.0,345.1 L1952.2,342.4 L1954.3,339.7 L1956.4,336.9 L1958.5,334.1 L1960.6,331.3 L1962.7,328.5 L1964.8,325.7 L1966.9,322.9 L1969.0,320.0 L1971.1,317.1 L1973.2,314.2 L1975.3,311.2 L1977.5,308.2 L1979.6,305.1 L1981.7,302.0 L1983.8,298.8 L1985.9,295.5 L1988.0,292.2 L1990.1,288.8 L1992.2,285.3 L1994.3,281.7 L1996.4,278.0 L1998.5,274.2 L2000.6,270.3 L2002.7,266.3 L2004.9,262.2 L2007.0,258.0 L2009.1,253.6 L2011.2,249.1 L2013.3,244.4 L2015.4,239.6 L2017.5,234.6 L2019.6,229.5 L2021.7,224.3" fill="none" stroke="#a322ff" stroke-width="5.3" stroke-linejoin="round"/>
<path d="M1498.9,563.2 L1501.0,563.1 L1503.2,563.0 L1505.3,562.9 L1507.4,562.9 L1509.5,562.8 L1511.6,562.7 L1513.7,562.6 L1515.8,562.5 L1517.9,562.4 L1520.0,562.4 L1522.1,562.3 L1524.2,562.2 L1526.3,562.0 L1528.4,561.9 L1530.6,561.8 L1532.7,561.7 L1534.8,561.6 L1536.9,561.5 L1539.0,561.3 L1541.1,561.2 L1543.2,561.0 L1545.3,560.9 L1547.4,560.7 L1549.5,560.6 L1551.6,560.4 L1553.7,560.3 L1555.9,560.1 L1558.0,559.9 L1560.1,559.7 L1562.2,559.5 L1564.3,559.3 L1566.4,559.1 L1568.5,558.9 L1570.6,558.6 L1572.7,558.4 L1574.8,558.2 L1576.9,557.9 L1579.0,557.6 L1581.1,557.4 L1583.3,557.1 L1585.4,556.8 L1587.5,556.5 L1589.6,556.2 L1591.7,555.9 L1593.8,555.6 L1595.9,555.2 L1598.0,554.9 L1600.1,554.5 L1602.2,554.2 L1604.3,553.8 L1606.4,553.4 L1608.6,553.0 L1610.7,552.6 L1612.8,552.2 L1614.9,551.7 L1617.0,551.3 L1619.1,550.8 L1621.2,550.4 L1623.3,549.9 L1625.4,549.4 L1627.5,548.9 L1629.6,548.4 L1631.7,547.8 L1633.8,547.3 L1636.0,546.7 L1638.1,546.1 L1640.2,545.6 L1642.3,545.0 L1644.4,544.3 L1646.5,543.7 L1648.6,543.1 L1650.7,542.4 L1652.8,541.7 L1654.9,541.0 L1657.0,540.3 L1659.1,539.6 L1661.3,538.9 L1663.4,538.1 L1665.5,537.3 L1667.6,536.6 L1669.7,535.7 L1671.8,534.9 L1673.9,534.1 L1676.0,533.2 L1678.1,532.3 L1680.2,531.3 L1682.3,530.3 L1684.4,529.3 L1686.5,528.3 L1688.7,527.2 L1690.8,526.1 L1692.9,524.9 L1695.0,523.7 L1697.1,522.5 L1699.2,521.2 L1701.3,519.9 L1703.4,518.5 L1705.5,517.0 L1707.6,515.5 L1709.7,514.0 L1711.8,512.4 L1714.0,510.7 L1716.1,509.0 L1718.2,507.2 L1720.3,505.4 L1722.4,503.5 L1724.5,501.5 L1726.6,499.5 L1728.7,497.4 L1730.8,495.2 L1732.9,493.1 L1735.0,490.8 L1737.1,488.6 L1739.2,486.3 L1741.4,484.0 L1743.5,481.6 L1745.6,479.3 L1747.7,476.9 L1749.8,474.5 L1751.9,472.2 L1754.0,469.8 L1756.1,467.5 L1758.2,465.1 L1760.3,462.8 L1762.4,460.6 L1764.5,458.3 L1766.7,456.1 L1768.8,453.9 L1770.9,451.8 L1773.0,449.7 L1775.1,447.7 L1777.2,445.8 L1779.3,443.9 L1781.4,442.0 L1783.5,440.3 L1785.6,438.6 L1787.7,436.9 L1789.8,435.3 L1791.9,433.8 L1794.1,432.3 L1796.2,430.8 L1798.3,429.3 L1800.4,427.9 L1802.5,426.5 L1804.6,425.1 L1806.7,423.7 L1808.8,422.4 L1810.9,421.0 L1813.0,419.7 L1815.1,418.3 L1817.2,417.0 L1819.4,415.6 L1821.5,414.3 L1823.6,412.9 L1825.7,411.4 L1827.8,410.0 L1829.9,408.5 L1832.0,407.0 L1834.1,405.5 L1836.2,403.9 L1838.3,402.3 L1840.4,400.6 L1842.5,398.8 L1844.6,397.0 L1846.8,395.2 L1848.9,393.3 L1851.0,391.3 L1853.1,389.3 L1855.2,387.2 L1857.3,385.1 L1859.4,382.9 L1861.5,380.7 L1863.6,378.4 L1865.7,376.1 L1867.8,373.7 L1869.9,371.3 L1872.1,368.8 L1874.2,366.3 L1876.3,363.7 L1878.4,361.1 L1880.5,358.4 L1882.6,355.7 L1884.7,353.0 L1886.8,350.2 L1888.9,347.4 L1891.0,344.6 L1893.1,341.7 L1895.2,338.7 L1897.3,335.8 L1899.5,332.8 L1901.6,329.7 L1903.7,326.6 L1905.8,323.5 L1907.9,320.4 L1910.0,317.2 L1912.1,314.0 L1914.2,310.7 L1916.3,307.4 L1918.4,304.1 L1920.5,300.7 L1922.6,297.2 L1924.8,293.8 L1926.9,290.3 L1929.0,286.7 L1931.1,283.1 L1933.2,279.4 L1935.3,275.8 L1937.4,272.0 L1939.5,268.2 L1941.6,264.4 L1943.7,260.5 L1945.8,256.6 L1947.9,252.6 L1950.0,248.6 L1952.2,244.5 L1954.3,240.4 L1956.4,236.2 L1958.5,232.0 L1960.6,227.7 L1962.7,223.4 L1964.8,219.0 L1966.9,214.5 L1969.0,210.0 L1971.1,205.5 L1973.2,200.9 L1975.3,196.2 L1977.5,191.5 L1979.6,186.7 L1981.7,181.8 L1983.8,176.8 L1985.9,171.7 L1988.0,166.6 L1990.1,161.3 L1992.2,155.9 L1994.3,150.4 L1996.4,144.8 L1998.5,139.1 L2000.6,133.3 L2002.7,127.4 L2004.9,121.4 L2007.0,115.3 L2009.1,109.2 L2011.2,103.0 L2013.3,96.8 L2015.4,90.5 L2017.5,84.2 L2019.6,77.9 L2021.7,71.6" fill="none" stroke="#ff3a8c" stroke-width="5.3" stroke-linejoin="round"/>
<path d="M1498.9,568.0 L1501.0,568.0 L1503.2,568.0 L1505.3,568.0 L1507.4,568.1 L1509.5,568.1 L1511.6,568.1 L1513.7,568.1 L1515.8,568.1 L1517.9,568.1 L1520.0,568.1 L1522.1,568.1 L1524.2,568.1 L1526.3,568.1 L1528.4,568.1 L1530.6,568.1 L1532.7,568.1 L1534.8,568.1 L1536.9,568.1 L1539.0,568.1 L1541.1,568.1 L1543.2,568.0 L1545.3,568.0 L1547.4,568.0 L1549.5,568.0 L1551.6,567.9 L1553.7,567.9 L1555.9,567.9 L1558.0,567.9 L1560.1,567.8 L1562.2,567.8 L1564.3,567.7 L1566.4,567.7 L1568.5,567.6 L1570.6,567.6 L1572.7,567.6 L1574.8,567.5 L1576.9,567.4 L1579.0,567.4 L1581.1,567.3 L1583.3,567.3 L1585.4,567.2 L1587.5,567.2 L1589.6,567.1 L1591.7,567.0 L1593.8,567.0 L1595.9,566.9 L1598.0,566.8 L1600.1,566.7 L1602.2,566.7 L1604.3,566.6 L1606.4,566.5 L1608.6,566.4 L1610.7,566.3 L1612.8,566.2 L1614.9,566.1 L1617.0,566.1 L1619.1,566.0 L1621.2,565.9 L1623.3,565.8 L1625.4,565.7 L1627.5,565.6 L1629.6,565.5 L1631.7,565.4 L1633.8,565.3 L1636.0,565.2 L1638.1,565.0 L1640.2,564.9 L1642.3,564.8 L1644.4,564.7 L1646.5,564.6 L1648.6,564.5 L1650.7,564.4 L1652.8,564.2 L1654.9,564.1 L1657.0,564.0 L1659.1,563.9 L1661.3,563.7 L1663.4,563.6 L1665.5,563.5 L1667.6,563.3 L1669.7,563.2 L1671.8,563.1 L1673.9,562.9 L1676.0,562.8 L1678.1,562.6 L1680.2,562.5 L1682.3,562.4 L1684.4,562.2 L1686.5,562.1 L1688.7,561.9 L1690.8,561.8 L1692.9,561.6 L1695.0,561.5 L1697.1,561.3 L1699.2,561.1 L1701.3,561.0 L1703.4,560.8 L1705.5,560.7 L1707.6,560.5 L1709.7,560.3 L1711.8,560.2 L1714.0,560.0 L1716.1,559.8 L1718.2,559.7 L1720.3,559.5 L1722.4,559.3 L1724.5,559.1 L1726.6,559.0 L1728.7,558.8 L1730.8,558.6 L1732.9,558.4 L1735.0,558.2 L1737.1,558.1 L1739.2,557.9 L1741.4,557.7 L1743.5,557.5 L1745.6,557.3 L1747.7,557.1 L1749.8,556.9 L1751.9,556.7 L1754.0,556.5 L1756.1,556.3 L1758.2,556.1 L1760.3,555.9 L1762.4,555.8 L1764.5,555.6 L1766.7,555.3 L1768.8,555.1 L1770.9,554.9 L1773.0,554.7 L1775.1,554.5 L1777.2,554.3 L1779.3,554.1 L1781.4,553.9 L1783.5,553.7 L1785.6,553.5 L1787.7,553.3 L1789.8,553.1 L1791.9,552.8 L1794.1,552.6 L1796.2,552.4 L1798.3,552.2 L1800.4,552.0 L1802.5,551.7 L1804.6,551.5 L1806.7,551.3 L1808.8,551.0 L1810.9,550.8 L1813.0,550.6 L1815.1,550.3 L1817.2,550.1 L1819.4,549.9 L1821.5,549.6 L1823.6,549.4 L1825.7,549.1 L1827.8,548.9 L1829.9,548.6 L1832.0,548.4 L1834.1,548.1 L1836.2,547.9 L1838.3,547.6 L1840.4,547.3 L1842.5,547.1 L1844.6,546.8 L1846.8,546.5 L1848.9,546.3 L1851.0,546.0 L1853.1,545.7 L1855.2,545.4 L1857.3,545.1 L1859.4,544.8 L1861.5,544.5 L1863.6,544.2 L1865.7,543.9 L1867.8,543.6 L1869.9,543.3 L1872.1,543.0 L1874.2,542.7 L1876.3,542.4 L1878.4,542.1 L1880.5,541.7 L1882.6,541.4 L1884.7,541.1 L1886.8,540.7 L1888.9,540.4 L1891.0,540.1 L1893.1,539.7 L1895.2,539.4 L1897.3,539.0 L1899.5,538.6 L1901.6,538.3 L1903.7,537.9 L1905.8,537.5 L1907.9,537.2 L1910.0,536.8 L1912.1,536.4 L1914.2,536.0 L1916.3,535.6 L1918.4,535.2 L1920.5,534.8 L1922.6,534.4 L1924.8,534.0 L1926.9,533.5 L1929.0,533.1 L1931.1,532.7 L1933.2,532.2 L1935.3,531.8 L1937.4,531.3 L1939.5,530.9 L1941.6,530.4 L1943.7,530.0 L1945.8,529.5 L1947.9,529.0 L1950.0,528.6 L1952.2,528.1 L1954.3,527.6 L1956.4,527.1 L1958.5,526.6 L1960.6,526.1 L1962.7,525.6 L1964.8,525.0 L1966.9,524.5 L1969.0,524.0 L1971.1,523.4 L1973.2,522.9 L1975.3,522.3 L1977.5,521.8 L1979.6,521.2 L1981.7,520.6 L1983.8,520.1 L1985.9,519.5 L1988.0,518.9 L1990.1,518.3 L1992.2,517.7 L1994.3,517.1 L1996.4,516.5 L1998.5,515.8 L2000.6,515.2 L2002.7,514.6 L2004.9,513.9 L2007.0,513.3 L2009.1,512.6 L2011.2,512.0 L2013.3,511.3 L2015.4,510.6 L2017.5,509.9 L2019.6,509.2 L2021.7,508.5" fill="none" stroke="#b0501a" stroke-width="5.3" stroke-linejoin="round"/>
<line x1="1676.01" y1="568.50" x2="1676.01" y2="535.48" stroke="#ff3a8c" stroke-width="3.2"/>
<line x1="1701.30" y1="568.50" x2="1701.30" y2="535.48" stroke="#a322ff" stroke-width="2.8"/>
<line x1="1920.54" y1="568.50" x2="1920.54" y2="535.48" stroke="#b0501a" stroke-width="2.2"/>
<path d="M1676.01,535.48 L1768.76,535.48" stroke="#06062a" stroke-width="3.4" stroke-dasharray="13.5 14.3" fill="none"/>
<path d="M1701.30,535.48 L1768.76,535.48" stroke="#06062a" stroke-width="3.4" stroke-dasharray="13.5 14.3" fill="none"/>
<path d="M1920.54,535.48 L1768.76,535.48" stroke="#06062a" stroke-width="3.4" stroke-dasharray="13.5 14.3" fill="none"/>
<line x1="1768.76" y1="593.20" x2="1768.76" y2="47.80" stroke="#06062a" stroke-width="3.4" stroke-dasharray="13.5 14.3"/>
<line x1="118.10" y1="1273.80" x2="673.77" y2="1273.80" stroke="#bebebe" stroke-width="2.7"/>
<text x="86.70" y="1285.10" class="tk">0</text>
<line x1="118.10" y1="1138.60" x2="673.77" y2="1138.60" stroke="#bebebe" stroke-width="2.7"/>
<text x="68.62" y="1149.90" class="tk">10</text>
<line x1="118.10" y1="1003.40" x2="673.77" y2="1003.40" stroke="#bebebe" stroke-width="2.7"/>
<text x="68.62" y="1014.70" class="tk">20</text>
<line x1="118.10" y1="868.20" x2="673.77" y2="868.20" stroke="#bebebe" stroke-width="2.7"/>
<text x="68.62" y="879.50" class="tk">30</text>
<line x1="118.10" y1="1298.50" x2="673.77" y2="1298.50" stroke="#06062a" stroke-width="3"/>
<line x1="143.40" y1="1300.00" x2="143.40" y2="1306.80" stroke="#3a3a3a" stroke-width="2.9"/>
<text x="125.14" y="1336.10" class="tk">20</text>
<line x1="227.72" y1="1300.00" x2="227.72" y2="1306.80" stroke="#3a3a3a" stroke-width="2.9"/>
<text x="209.66" y="1336.10" class="tk">30</text>
<line x1="312.04" y1="1300.00" x2="312.04" y2="1306.80" stroke="#3a3a3a" stroke-width="2.9"/>
<text x="294.23" y="1336.10" class="tk">40</text>
<line x1="396.36" y1="1300.00" x2="396.36" y2="1306.80" stroke="#3a3a3a" stroke-width="2.9"/>
<text x="378.27" y="1336.10" class="tk">50</text>
<line x1="480.68" y1="1300.00" x2="480.68" y2="1306.80" stroke="#3a3a3a" stroke-width="2.9"/>
<text x="462.41" y="1336.10" class="tk">60</text>
<line x1="565.00" y1="1300.00" x2="565.00" y2="1306.80" stroke="#3a3a3a" stroke-width="2.9"/>
<text x="546.73" y="1336.10" class="tk">70</text>
<line x1="649.32" y1="1300.00" x2="649.32" y2="1306.80" stroke="#3a3a3a" stroke-width="2.9"/>
<text x="631.17" y="1336.10" class="tk">80</text>
<text x="367.72" y="1372.80" class="tt">Age</text>
<text x="116.65" y="729.90" class="tt">CAD</text>
<text transform="translate(25.20,1025.80) rotate(-90)" x="-206.80" class="tt">Annual incidence (per 1,000)</text>
<path d="M126.5,1273.8 L128.6,1273.8 L130.8,1273.8 L132.9,1273.7 L135.0,1273.6 L137.1,1273.6 L139.2,1273.5 L141.3,1273.4 L143.4,1273.3 L145.5,1273.2 L147.6,1273.1 L149.7,1273.0 L151.8,1273.0 L153.9,1272.9 L156.0,1272.8 L158.2,1272.7 L160.3,1272.6 L162.4,1272.5 L164.5,1272.4 L166.6,1272.4 L168.7,1272.3 L170.8,1272.2 L172.9,1272.1 L175.0,1272.0 L177.1,1271.9 L179.2,1271.9 L181.3,1271.8 L183.5,1271.7 L185.6,1271.6 L187.7,1271.5 L189.8,1271.4 L191.9,1271.3 L194.0,1271.3 L196.1,1271.2 L198.2,1271.1 L200.3,1271.0 L202.4,1270.9 L204.5,1270.8 L206.6,1270.7 L208.7,1270.6 L210.9,1270.5 L213.0,1270.4 L215.1,1270.3 L217.2,1270.2 L219.3,1270.1 L221.4,1270.0 L223.5,1269.9 L225.6,1269.8 L227.7,1269.7 L229.8,1269.6 L231.9,1269.5 L234.0,1269.4 L236.2,1269.2 L238.3,1269.1 L240.4,1269.0 L242.5,1268.9 L244.6,1268.8 L246.7,1268.6 L248.8,1268.5 L250.9,1268.4 L253.0,1268.2 L255.1,1268.1 L257.2,1268.0 L259.3,1267.8 L261.4,1267.7 L263.6,1267.5 L265.7,1267.4 L267.8,1267.2 L269.9,1267.1 L272.0,1266.9 L274.1,1266.7 L276.2,1266.6 L278.3,1266.4 L280.4,1266.2 L282.5,1266.1 L284.6,1265.9 L286.7,1265.7 L288.9,1265.5 L291.0,1265.3 L293.1,1265.1 L295.2,1264.9 L297.3,1264.7 L299.4,1264.5 L301.5,1264.3 L303.6,1264.1 L305.7,1263.9 L307.8,1263.7 L309.9,1263.4 L312.0,1263.2 L314.1,1263.0 L316.3,1262.7 L318.4,1262.5 L320.5,1262.3 L322.6,1262.0 L324.7,1261.8 L326.8,1261.5 L328.9,1261.2 L331.0,1261.0 L333.1,1260.7 L335.2,1260.4 L337.3,1260.1 L339.4,1259.8 L341.6,1259.5 L343.7,1259.2 L345.8,1258.9 L347.9,1258.6 L350.0,1258.3 L352.1,1258.0 L354.2,1257.7 L356.3,1257.3 L358.4,1257.0 L360.5,1256.7 L362.6,1256.3 L364.7,1256.0 L366.8,1255.6 L369.0,1255.2 L371.1,1254.9 L373.2,1254.5 L375.3,1254.1 L377.4,1253.7 L379.5,1253.3 L381.6,1252.9 L383.7,1252.5 L385.8,1252.1 L387.9,1251.7 L390.0,1251.3 L392.1,1250.8 L394.3,1250.4 L396.4,1249.9 L398.5,1249.5 L400.6,1249.0 L402.7,1248.6 L404.8,1248.1 L406.9,1247.6 L409.0,1247.1 L411.1,1246.6 L413.2,1246.1 L415.3,1245.6 L417.4,1245.1 L419.5,1244.6 L421.7,1244.0 L423.8,1243.5 L425.9,1243.0 L428.0,1242.4 L430.1,1241.8 L432.2,1241.3 L434.3,1240.7 L436.4,1240.1 L438.5,1239.5 L440.6,1238.9 L442.7,1238.3 L444.8,1237.7 L447.0,1237.0 L449.1,1236.4 L451.2,1235.7 L453.3,1235.1 L455.4,1234.4 L457.5,1233.7 L459.6,1233.1 L461.7,1232.4 L463.8,1231.7 L465.9,1231.0 L468.0,1230.2 L470.1,1229.5 L472.2,1228.8 L474.4,1228.0 L476.5,1227.3 L478.6,1226.5 L480.7,1225.7 L482.8,1224.9 L484.9,1224.1 L487.0,1223.3 L489.1,1222.5 L491.2,1221.7 L493.3,1220.8 L495.4,1220.0 L497.5,1219.1 L499.7,1218.2 L501.8,1217.4 L503.9,1216.5 L506.0,1215.6 L508.1,1214.7 L510.2,1213.7 L512.3,1212.8 L514.4,1211.8 L516.5,1210.9 L518.6,1209.9 L520.7,1208.9 L522.8,1207.9 L524.9,1206.9 L527.1,1205.9 L529.2,1204.9 L531.3,1203.9 L533.4,1202.8 L535.5,1201.7 L537.6,1200.7 L539.7,1199.6 L541.8,1198.5 L543.9,1197.4 L546.0,1196.2 L548.1,1195.1 L550.2,1194.0 L552.4,1192.8 L554.5,1191.6 L556.6,1190.4 L558.7,1189.2 L560.8,1188.0 L562.9,1186.8 L565.0,1185.5 L567.1,1184.3 L569.2,1183.0 L571.3,1181.8 L573.4,1180.5 L575.5,1179.2 L577.6,1177.8 L579.8,1176.5 L581.9,1175.2 L584.0,1173.8 L586.1,1172.4 L588.2,1171.0 L590.3,1169.6 L592.4,1168.2 L594.5,1166.8 L596.6,1165.3 L598.7,1163.9 L600.8,1162.4 L602.9,1160.9 L605.1,1159.4 L607.2,1157.9 L609.3,1156.4 L611.4,1154.8 L613.5,1153.2 L615.6,1151.7 L617.7,1150.1 L619.8,1148.5 L621.9,1146.8 L624.0,1145.2 L626.1,1143.6 L628.2,1141.9 L630.3,1140.2 L632.5,1138.5 L634.6,1136.8 L636.7,1135.1 L638.8,1133.3 L640.6,1131.8 L649.3,1131.8" fill="none" stroke="#19ffc4" stroke-width="5.3" stroke-linejoin="round"/>
<path d="M126.5,1273.4 L128.6,1273.3 L130.8,1273.2 L132.9,1273.0 L135.0,1272.9 L137.1,1272.8 L139.2,1272.7 L141.3,1272.6 L143.4,1272.5 L145.5,1272.5 L147.6,1272.4 L149.7,1272.3 L151.8,1272.3 L153.9,1272.2 L156.0,1272.2 L158.2,1272.1 L160.3,1272.1 L162.4,1272.1 L164.5,1272.0 L166.6,1272.0 L168.7,1272.0 L170.8,1271.9 L172.9,1271.9 L175.0,1271.9 L177.1,1271.9 L179.2,1271.8 L181.3,1271.8 L183.5,1271.8 L185.6,1271.7 L187.7,1271.7 L189.8,1271.7 L191.9,1271.6 L194.0,1271.6 L196.1,1271.5 L198.2,1271.5 L200.3,1271.4 L202.4,1271.3 L204.5,1271.3 L206.6,1271.2 L208.7,1271.1 L210.9,1271.0 L213.0,1270.9 L215.1,1270.7 L217.2,1270.6 L219.3,1270.5 L221.4,1270.3 L223.5,1270.2 L225.6,1270.0 L227.7,1269.8 L229.8,1269.6 L231.9,1269.4 L234.0,1269.2 L236.2,1268.9 L238.3,1268.7 L240.4,1268.4 L242.5,1268.1 L244.6,1267.8 L246.7,1267.5 L248.8,1267.1 L250.9,1266.8 L253.0,1266.4 L255.1,1266.0 L257.2,1265.6 L259.3,1265.1 L261.4,1264.7 L263.6,1264.2 L265.7,1263.7 L267.8,1263.2 L269.9,1262.6 L272.0,1262.1 L274.1,1261.5 L276.2,1260.9 L278.3,1260.2 L280.4,1259.6 L282.5,1258.9 L284.6,1258.2 L286.7,1257.4 L288.9,1256.7 L291.0,1255.9 L293.1,1255.1 L295.2,1254.3 L297.3,1253.4 L299.4,1252.6 L301.5,1251.7 L303.6,1250.9 L305.7,1250.0 L307.8,1249.1 L309.9,1248.2 L312.0,1247.3 L314.1,1246.4 L316.3,1245.5 L318.4,1244.6 L320.5,1243.6 L322.6,1242.7 L324.7,1241.8 L326.8,1240.9 L328.9,1240.0 L331.0,1239.1 L333.1,1238.2 L335.2,1237.3 L337.3,1236.4 L339.4,1235.5 L341.6,1234.6 L343.7,1233.8 L345.8,1232.9 L347.9,1232.1 L350.0,1231.2 L352.1,1230.4 L354.2,1229.5 L356.3,1228.7 L358.4,1227.9 L360.5,1227.0 L362.6,1226.2 L364.7,1225.3 L366.8,1224.5 L369.0,1223.6 L371.1,1222.7 L373.2,1221.9 L375.3,1221.0 L377.4,1220.1 L379.5,1219.2 L381.6,1218.3 L383.7,1217.3 L385.8,1216.4 L387.9,1215.5 L390.0,1214.5 L392.1,1213.5 L394.3,1212.5 L396.4,1211.5 L398.5,1210.5 L400.6,1209.4 L402.7,1208.3 L404.8,1207.3 L406.9,1206.2 L409.0,1205.0 L411.1,1203.9 L413.2,1202.8 L415.3,1201.6 L417.4,1200.4 L419.5,1199.2 L421.7,1198.0 L423.8,1196.7 L425.9,1195.4 L428.0,1194.2 L430.1,1192.9 L432.2,1191.5 L434.3,1190.2 L436.4,1188.8 L438.5,1187.4 L440.6,1186.0 L442.7,1184.6 L444.8,1183.2 L447.0,1181.7 L449.1,1180.2 L451.2,1178.7 L453.3,1177.2 L455.4,1175.6 L457.5,1174.1 L459.6,1172.5 L461.7,1170.9 L463.8,1169.2 L465.9,1167.6 L468.0,1165.9 L470.1,1164.2 L472.2,1162.4 L474.4,1160.7 L476.5,1158.9 L478.6,1157.1 L480.7,1155.3 L482.8,1153.5 L484.9,1151.6 L487.0,1149.7 L489.1,1147.8 L491.2,1145.8 L493.3,1143.9 L495.4,1141.9 L497.5,1139.8 L499.7,1137.8 L501.8,1135.7 L503.9,1133.6 L506.0,1131.5 L508.1,1129.4 L510.2,1127.2 L512.3,1125.0 L514.4,1122.8 L516.5,1120.5 L518.6,1118.2 L520.7,1115.9 L522.8,1113.6 L524.9,1111.2 L527.1,1108.8 L529.2,1106.4 L531.3,1104.0 L533.4,1101.5 L535.5,1099.0 L537.6,1096.5 L539.7,1093.9 L541.8,1091.3 L543.9,1088.7 L546.0,1086.0 L548.1,1083.4 L550.2,1080.6 L552.4,1077.9 L554.5,1075.1 L556.6,1072.3 L558.7,1069.4 L560.8,1066.6 L562.9,1063.6 L565.0,1060.7 L567.1,1057.7 L569.2,1054.7 L571.3,1051.6 L573.4,1048.5 L575.5,1045.4 L577.6,1042.2 L579.8,1039.0 L581.9,1035.7 L584.0,1032.5 L586.1,1029.1 L588.2,1025.8 L590.3,1022.4 L592.4,1018.9 L594.5,1015.4 L596.6,1011.9 L598.7,1008.3 L600.8,1004.7 L602.9,1001.0 L605.1,997.3 L607.2,993.6 L609.3,989.8 L611.4,986.0 L613.5,982.1 L615.6,978.2 L617.7,974.2 L619.8,970.2 L621.9,966.1 L624.0,962.0 L626.1,957.9 L628.2,953.7 L630.3,949.4 L632.5,945.1 L634.6,940.8 L636.7,936.4 L638.8,931.9 L640.6,928.0 L649.3,928.0" fill="none" stroke="#a322ff" stroke-width="5.3" stroke-linejoin="round"/>
<path d="M126.5,1272.7 L128.6,1272.6 L130.8,1272.4 L132.9,1272.3 L135.0,1272.2 L137.1,1272.1 L139.2,1271.9 L141.3,1271.8 L143.4,1271.7 L145.5,1271.6 L147.6,1271.5 L149.7,1271.4 L151.8,1271.4 L153.9,1271.3 L156.0,1271.2 L158.2,1271.1 L160.3,1271.0 L162.4,1271.0 L164.5,1270.9 L166.6,1270.8 L168.7,1270.7 L170.8,1270.6 L172.9,1270.6 L175.0,1270.5 L177.1,1270.4 L179.2,1270.3 L181.3,1270.2 L183.5,1270.1 L185.6,1270.0 L187.7,1269.9 L189.8,1269.8 L191.9,1269.7 L194.0,1269.6 L196.1,1269.4 L198.2,1269.3 L200.3,1269.1 L202.4,1269.0 L204.5,1268.8 L206.6,1268.7 L208.7,1268.5 L210.9,1268.3 L213.0,1268.1 L215.1,1267.9 L217.2,1267.7 L219.3,1267.4 L221.4,1267.2 L223.5,1267.0 L225.6,1266.7 L227.7,1266.4 L229.8,1266.1 L231.9,1265.8 L234.0,1265.5 L236.2,1265.1 L238.3,1264.8 L240.4,1264.4 L242.5,1264.0 L244.6,1263.6 L246.7,1263.2 L248.8,1262.7 L250.9,1262.3 L253.0,1261.8 L255.1,1261.3 L257.2,1260.8 L259.3,1260.2 L261.4,1259.7 L263.6,1259.1 L265.7,1258.5 L267.8,1257.9 L269.9,1257.2 L272.0,1256.5 L274.1,1255.8 L276.2,1255.1 L278.3,1254.4 L280.4,1253.6 L282.5,1252.8 L284.6,1252.0 L286.7,1251.2 L288.9,1250.4 L291.0,1249.5 L293.1,1248.6 L295.2,1247.7 L297.3,1246.8 L299.4,1245.8 L301.5,1244.9 L303.6,1243.9 L305.7,1242.9 L307.8,1241.9 L309.9,1240.8 L312.0,1239.8 L314.1,1238.7 L316.3,1237.6 L318.4,1236.5 L320.5,1235.4 L322.6,1234.3 L324.7,1233.1 L326.8,1232.0 L328.9,1230.8 L331.0,1229.6 L333.1,1228.4 L335.2,1227.2 L337.3,1225.9 L339.4,1224.7 L341.6,1223.4 L343.7,1222.2 L345.8,1220.9 L347.9,1219.6 L350.0,1218.3 L352.1,1217.0 L354.2,1215.6 L356.3,1214.3 L358.4,1212.9 L360.5,1211.6 L362.6,1210.2 L364.7,1208.8 L366.8,1207.4 L369.0,1206.0 L371.1,1204.6 L373.2,1203.2 L375.3,1201.8 L377.4,1200.4 L379.5,1198.9 L381.6,1197.5 L383.7,1196.0 L385.8,1194.6 L387.9,1193.1 L390.0,1191.6 L392.1,1190.1 L394.3,1188.6 L396.4,1187.1 L398.5,1185.6 L400.6,1184.0 L402.7,1182.5 L404.8,1180.9 L406.9,1179.4 L409.0,1177.8 L411.1,1176.2 L413.2,1174.5 L415.3,1172.9 L417.4,1171.3 L419.5,1169.6 L421.7,1167.9 L423.8,1166.2 L425.9,1164.5 L428.0,1162.7 L430.1,1161.0 L432.2,1159.2 L434.3,1157.4 L436.4,1155.6 L438.5,1153.7 L440.6,1151.9 L442.7,1150.0 L444.8,1148.1 L447.0,1146.1 L449.1,1144.1 L451.2,1142.2 L453.3,1140.1 L455.4,1138.1 L457.5,1136.0 L459.6,1133.9 L461.7,1131.8 L463.8,1129.7 L465.9,1127.5 L468.0,1125.2 L470.1,1123.0 L472.2,1120.7 L474.4,1118.3 L476.5,1115.9 L478.6,1113.5 L480.7,1111.0 L482.8,1108.5 L484.9,1105.9 L487.0,1103.3 L489.1,1100.6 L491.2,1097.8 L493.3,1095.0 L495.4,1092.2 L497.5,1089.3 L499.7,1086.3 L501.8,1083.3 L503.9,1080.2 L506.0,1077.1 L508.1,1073.9 L510.2,1070.7 L512.3,1067.4 L514.4,1064.1 L516.5,1060.7 L518.6,1057.3 L520.7,1053.8 L522.8,1050.2 L524.9,1046.6 L527.1,1043.0 L529.2,1039.3 L531.3,1035.6 L533.4,1031.8 L535.5,1027.9 L537.6,1024.0 L539.7,1020.1 L541.8,1016.1 L543.9,1012.0 L546.0,1007.9 L548.1,1003.8 L550.2,999.6 L552.4,995.4 L554.5,991.1 L556.6,986.7 L558.7,982.3 L560.8,977.9 L562.9,973.4 L565.0,968.8 L567.1,964.2 L569.2,959.6 L571.3,954.9 L573.4,950.1 L575.5,945.3 L577.6,940.5 L579.8,935.6 L581.9,930.7 L584.0,925.7 L586.1,920.6 L588.2,915.5 L590.3,910.4 L592.4,905.2 L594.5,900.0 L596.6,894.7 L598.7,889.4 L600.8,884.0 L602.9,878.6 L605.1,873.1 L607.2,867.6 L609.3,862.0 L611.4,856.4 L613.5,850.8 L615.6,845.2 L617.7,839.5 L619.8,833.7 L621.9,828.0 L624.0,822.2 L626.1,816.4 L628.2,810.5 L630.3,804.6 L632.5,798.7 L634.6,792.8 L636.7,786.9 L638.8,780.9 L640.5,776.1 L649.3,776.1" fill="none" stroke="#ff3a8c" stroke-width="5.3" stroke-linejoin="round"/>
<path d="M126.5,1273.7 L128.6,1273.6 L130.8,1273.6 L132.9,1273.5 L135.0,1273.4 L137.1,1273.4 L139.2,1273.3 L141.3,1273.2 L143.4,1273.1 L145.5,1273.1 L147.6,1273.0 L149.7,1272.9 L151.8,1272.9 L153.9,1272.8 L156.0,1272.7 L158.2,1272.7 L160.3,1272.6 L162.4,1272.6 L164.5,1272.5 L166.6,1272.4 L168.7,1272.4 L170.8,1272.3 L172.9,1272.3 L175.0,1272.2 L177.1,1272.1 L179.2,1272.1 L181.3,1272.0 L183.5,1272.0 L185.6,1271.9 L187.7,1271.9 L189.8,1271.8 L191.9,1271.7 L194.0,1271.7 L196.1,1271.6 L198.2,1271.6 L200.3,1271.5 L202.4,1271.5 L204.5,1271.4 L206.6,1271.4 L208.7,1271.3 L210.9,1271.2 L213.0,1271.2 L215.1,1271.1 L217.2,1271.1 L219.3,1271.0 L221.4,1271.0 L223.5,1270.9 L225.6,1270.9 L227.7,1270.8 L229.8,1270.7 L231.9,1270.7 L234.0,1270.6 L236.2,1270.6 L238.3,1270.5 L240.4,1270.5 L242.5,1270.4 L244.6,1270.3 L246.7,1270.3 L248.8,1270.2 L250.9,1270.2 L253.0,1270.1 L255.1,1270.0 L257.2,1270.0 L259.3,1269.9 L261.4,1269.8 L263.6,1269.8 L265.7,1269.7 L267.8,1269.6 L269.9,1269.6 L272.0,1269.5 L274.1,1269.4 L276.2,1269.4 L278.3,1269.3 L280.4,1269.2 L282.5,1269.1 L284.6,1269.1 L286.7,1269.0 L288.9,1268.9 L291.0,1268.8 L293.1,1268.8 L295.2,1268.7 L297.3,1268.6 L299.4,1268.5 L301.5,1268.4 L303.6,1268.3 L305.7,1268.2 L307.8,1268.2 L309.9,1268.1 L312.0,1268.0 L314.1,1267.9 L316.3,1267.8 L318.4,1267.7 L320.5,1267.6 L322.6,1267.5 L324.7,1267.4 L326.8,1267.3 L328.9,1267.2 L331.0,1267.1 L333.1,1266.9 L335.2,1266.8 L337.3,1266.7 L339.4,1266.6 L341.6,1266.5 L343.7,1266.4 L345.8,1266.2 L347.9,1266.1 L350.0,1266.0 L352.1,1265.9 L354.2,1265.7 L356.3,1265.6 L358.4,1265.5 L360.5,1265.3 L362.6,1265.2 L364.7,1265.1 L366.8,1264.9 L369.0,1264.8 L371.1,1264.6 L373.2,1264.5 L375.3,1264.3 L377.4,1264.2 L379.5,1264.0 L381.6,1263.8 L383.7,1263.7 L385.8,1263.5 L387.9,1263.3 L390.0,1263.2 L392.1,1263.0 L394.3,1262.8 L396.4,1262.6 L398.5,1262.5 L400.6,1262.3 L402.7,1262.1 L404.8,1261.9 L406.9,1261.7 L409.0,1261.5 L411.1,1261.3 L413.2,1261.1 L415.3,1260.9 L417.4,1260.7 L419.5,1260.5 L421.7,1260.3 L423.8,1260.1 L425.9,1259.8 L428.0,1259.6 L430.1,1259.4 L432.2,1259.1 L434.3,1258.9 L436.4,1258.7 L438.5,1258.4 L440.6,1258.2 L442.7,1257.9 L444.8,1257.7 L447.0,1257.4 L449.1,1257.2 L451.2,1256.9 L453.3,1256.6 L455.4,1256.4 L457.5,1256.1 L459.6,1255.8 L461.7,1255.5 L463.8,1255.3 L465.9,1255.0 L468.0,1254.7 L470.1,1254.4 L472.2,1254.1 L474.4,1253.8 L476.5,1253.5 L478.6,1253.2 L480.7,1252.8 L482.8,1252.5 L484.9,1252.2 L487.0,1251.9 L489.1,1251.5 L491.2,1251.2 L493.3,1250.9 L495.4,1250.5 L497.5,1250.2 L499.7,1249.8 L501.8,1249.5 L503.9,1249.1 L506.0,1248.7 L508.1,1248.4 L510.2,1248.0 L512.3,1247.6 L514.4,1247.2 L516.5,1246.8 L518.6,1246.5 L520.7,1246.1 L522.8,1245.7 L524.9,1245.2 L527.1,1244.8 L529.2,1244.4 L531.3,1244.0 L533.4,1243.6 L535.5,1243.1 L537.6,1242.7 L539.7,1242.3 L541.8,1241.8 L543.9,1241.4 L546.0,1240.9 L548.1,1240.5 L550.2,1240.0 L552.4,1239.5 L554.5,1239.0 L556.6,1238.6 L558.7,1238.1 L560.8,1237.6 L562.9,1237.1 L565.0,1236.6 L567.1,1236.1 L569.2,1235.6 L571.3,1235.1 L573.4,1234.5 L575.5,1234.0 L577.6,1233.5 L579.8,1232.9 L581.9,1232.4 L584.0,1231.8 L586.1,1231.3 L588.2,1230.7 L590.3,1230.2 L592.4,1229.6 L594.5,1229.0 L596.6,1228.4 L598.7,1227.8 L600.8,1227.2 L602.9,1226.6 L605.1,1226.0 L607.2,1225.4 L609.3,1224.8 L611.4,1224.2 L613.5,1223.5 L615.6,1222.9 L617.7,1222.3 L619.8,1221.6 L621.9,1221.0 L624.0,1220.3 L626.1,1219.6 L628.2,1219.0 L630.3,1218.3 L632.5,1217.6 L634.6,1216.9 L636.7,1216.2 L638.8,1215.5 L640.0,1215.1 L649.3,1215.1" fill="none" stroke="#b0501a" stroke-width="5.3" stroke-linejoin="round"/>
<line x1="253.02" y1="1273.80" x2="253.02" y2="1264.05" stroke="#ff3a8c" stroke-width="3.2"/>
<line x1="269.88" y1="1273.80" x2="269.88" y2="1264.05" stroke="#a322ff" stroke-width="2.8"/>
<line x1="387.93" y1="1273.80" x2="387.93" y2="1264.05" stroke="#b0501a" stroke-width="2.2"/>
<path d="M253.02,1264.05 L312.04,1264.05" stroke="#06062a" stroke-width="3.4" stroke-dasharray="13.5 14.3" fill="none"/>
<path d="M269.88,1264.05 L312.04,1264.05" stroke="#06062a" stroke-width="3.4" stroke-dasharray="13.5 14.3" fill="none"/>
<path d="M387.93,1264.05 L312.04,1264.05" stroke="#06062a" stroke-width="3.4" stroke-dasharray="13.5 14.3" fill="none"/>
<line x1="312.04" y1="1298.50" x2="312.04" y2="753.10" stroke="#06062a" stroke-width="3.4" stroke-dasharray="13.5 14.3"/>
<line x1="813.60" y1="1273.80" x2="1369.27" y2="1273.80" stroke="#bebebe" stroke-width="2.7"/>
<text x="782.20" y="1285.10" class="tk">0</text>
<line x1="813.60" y1="1146.88" x2="1369.27" y2="1146.88" stroke="#bebebe" stroke-width="2.7"/>
<text x="764.12" y="1158.17" class="tk">50</text>
<line x1="813.60" y1="1019.95" x2="1369.27" y2="1019.95" stroke="#bebebe" stroke-width="2.7"/>
<text x="746.05" y="1031.25" class="tk">100</text>
<line x1="813.60" y1="893.02" x2="1369.27" y2="893.02" stroke="#bebebe" stroke-width="2.7"/>
<text x="746.05" y="904.32" class="tk">150</text>
<line x1="813.60" y1="766.10" x2="1369.27" y2="766.10" stroke="#bebebe" stroke-width="2.7"/>
<text x="746.05" y="777.40" class="tk">200</text>
<line x1="813.60" y1="1298.50" x2="1369.27" y2="1298.50" stroke="#06062a" stroke-width="3"/>
<line x1="838.90" y1="1300.00" x2="838.90" y2="1306.80" stroke="#3a3a3a" stroke-width="2.9"/>
<text x="820.64" y="1336.10" class="tk">20</text>
<line x1="923.22" y1="1300.00" x2="923.22" y2="1306.80" stroke="#3a3a3a" stroke-width="2.9"/>
<text x="905.16" y="1336.10" class="tk">30</text>
<line x1="1007.54" y1="1300.00" x2="1007.54" y2="1306.80" stroke="#3a3a3a" stroke-width="2.9"/>
<text x="989.73" y="1336.10" class="tk">40</text>
<line x1="1091.86" y1="1300.00" x2="1091.86" y2="1306.80" stroke="#3a3a3a" stroke-width="2.9"/>
<text x="1073.77" y="1336.10" class="tk">50</text>
<line x1="1176.18" y1="1300.00" x2="1176.18" y2="1306.80" stroke="#3a3a3a" stroke-width="2.9"/>
<text x="1157.91" y="1336.10" class="tk">60</text>
<line x1="1260.50" y1="1300.00" x2="1260.50" y2="1306.80" stroke="#3a3a3a" stroke-width="2.9"/>
<text x="1242.23" y="1336.10" class="tk">70</text>
<line x1="1344.82" y1="1300.00" x2="1344.82" y2="1306.80" stroke="#3a3a3a" stroke-width="2.9"/>
<text x="1326.67" y="1336.10" class="tk">80</text>
<text x="1063.22" y="1372.80" class="tt">Age</text>
<text x="811.14" y="729.90" class="tt">HT</text>
<text transform="translate(729.60,1025.80) rotate(-90)" x="-206.80" class="tt">Annual incidence (per 1,000)</text>
<path d="M822.0,1237.3 L824.1,1236.9 L826.3,1236.6 L828.4,1236.2 L830.5,1235.9 L832.6,1235.5 L834.7,1235.1 L836.8,1234.8 L838.9,1234.4 L841.0,1234.0 L843.1,1233.6 L845.2,1233.2 L847.3,1232.9 L849.4,1232.5 L851.5,1232.1 L853.7,1231.7 L855.8,1231.3 L857.9,1230.8 L860.0,1230.4 L862.1,1230.0 L864.2,1229.6 L866.3,1229.2 L868.4,1228.7 L870.5,1228.3 L872.6,1227.8 L874.7,1227.4 L876.8,1226.9 L879.0,1226.5 L881.1,1226.0 L883.2,1225.6 L885.3,1225.1 L887.4,1224.6 L889.5,1224.1 L891.6,1223.7 L893.7,1223.2 L895.8,1222.7 L897.9,1222.2 L900.0,1221.7 L902.1,1221.2 L904.2,1220.7 L906.4,1220.2 L908.5,1219.6 L910.6,1219.1 L912.7,1218.6 L914.8,1218.0 L916.9,1217.5 L919.0,1217.0 L921.1,1216.4 L923.2,1215.9 L925.3,1215.3 L927.4,1214.7 L929.5,1214.2 L931.7,1213.6 L933.8,1213.0 L935.9,1212.4 L938.0,1211.8 L940.1,1211.2 L942.2,1210.6 L944.3,1210.0 L946.4,1209.4 L948.5,1208.8 L950.6,1208.2 L952.7,1207.6 L954.8,1206.9 L956.9,1206.3 L959.1,1205.7 L961.2,1205.0 L963.3,1204.4 L965.4,1203.7 L967.5,1203.0 L969.6,1202.4 L971.7,1201.7 L973.8,1201.0 L975.9,1200.3 L978.0,1199.6 L980.1,1199.0 L982.2,1198.3 L984.4,1197.5 L986.5,1196.8 L988.6,1196.1 L990.7,1195.4 L992.8,1194.7 L994.9,1194.0 L997.0,1193.2 L999.1,1192.5 L1001.2,1191.7 L1003.3,1191.0 L1005.4,1190.2 L1007.5,1189.5 L1009.6,1188.7 L1011.8,1188.0 L1013.9,1187.2 L1016.0,1186.4 L1018.1,1185.7 L1020.2,1184.9 L1022.3,1184.1 L1024.4,1183.3 L1026.5,1182.5 L1028.6,1181.7 L1030.7,1180.9 L1032.8,1180.1 L1034.9,1179.3 L1037.1,1178.5 L1039.2,1177.7 L1041.3,1176.9 L1043.4,1176.1 L1045.5,1175.2 L1047.6,1174.4 L1049.7,1173.6 L1051.8,1172.7 L1053.9,1171.9 L1056.0,1171.1 L1058.1,1170.2 L1060.2,1169.4 L1062.3,1168.5 L1064.5,1167.7 L1066.6,1166.9 L1068.7,1166.0 L1070.8,1165.2 L1072.9,1164.4 L1075.0,1163.5 L1077.1,1162.7 L1079.2,1161.9 L1081.3,1161.0 L1083.4,1160.2 L1085.5,1159.4 L1087.6,1158.6 L1089.8,1157.8 L1091.9,1157.0 L1094.0,1156.2 L1096.1,1155.4 L1098.2,1154.6 L1100.3,1153.9 L1102.4,1153.1 L1104.5,1152.3 L1106.6,1151.6 L1108.7,1150.9 L1110.8,1150.1 L1112.9,1149.4 L1115.0,1148.7 L1117.2,1148.0 L1119.3,1147.3 L1121.4,1146.7 L1123.5,1146.0 L1125.6,1145.4 L1127.7,1144.7 L1129.8,1144.1 L1131.9,1143.5 L1134.0,1142.9 L1136.1,1142.3 L1138.2,1141.7 L1140.3,1141.2 L1142.5,1140.6 L1144.6,1140.1 L1146.7,1139.6 L1148.8,1139.0 L1150.9,1138.5 L1153.0,1138.1 L1155.1,1137.6 L1157.2,1137.1 L1159.3,1136.7 L1161.4,1136.2 L1163.5,1135.8 L1165.6,1135.4 L1167.7,1135.0 L1169.9,1134.7 L1172.0,1134.3 L1174.1,1133.9 L1176.2,1133.6 L1178.3,1133.3 L1180.4,1133.0 L1182.5,1132.7 L1184.6,1132.4 L1186.7,1132.1 L1188.8,1131.9 L1190.9,1131.7 L1193.0,1131.5 L1195.2,1131.3 L1197.3,1131.1 L1199.4,1130.9 L1201.5,1130.8 L1203.6,1130.6 L1205.7,1130.5 L1207.8,1130.4 L1209.9,1130.3 L1212.0,1130.2 L1214.1,1130.2 L1216.2,1130.1 L1218.3,1130.1 L1220.4,1130.1 L1222.6,1130.1 L1224.7,1130.1 L1226.8,1130.2 L1228.9,1130.2 L1231.0,1130.3 L1233.1,1130.4 L1235.2,1130.5 L1237.3,1130.7 L1239.4,1130.8 L1241.5,1131.0 L1243.6,1131.2 L1245.7,1131.3 L1247.9,1131.5 L1250.0,1131.8 L1252.1,1132.0 L1254.2,1132.2 L1256.3,1132.5 L1258.4,1132.8 L1260.5,1133.0 L1262.6,1133.3 L1264.7,1133.6 L1266.8,1133.9 L1268.9,1134.2 L1271.0,1134.6 L1273.1,1134.9 L1275.3,1135.2 L1277.4,1135.6 L1279.5,1135.9 L1281.6,1136.3 L1283.7,1136.7 L1285.8,1137.0 L1287.9,1137.4 L1290.0,1137.8 L1292.1,1138.2 L1294.2,1138.6 L1296.3,1138.9 L1298.4,1139.3 L1300.6,1139.7 L1302.7,1140.1 L1304.8,1140.5 L1306.9,1140.9 L1309.0,1141.3 L1311.1,1141.7 L1313.2,1142.1 L1315.3,1142.5 L1317.4,1142.9 L1319.5,1143.3 L1321.6,1143.6 L1323.7,1144.0 L1325.8,1144.4 L1328.0,1144.8 L1330.1,1145.1 L1332.2,1145.5 L1334.3,1145.8 L1336.4,1146.2 L1338.5,1146.5 L1340.6,1146.9 L1342.7,1147.2 L1344.8,1147.5" fill="none" stroke="#19ffc4" stroke-width="5.3" stroke-linejoin="round"/>
<path d="M822.0,1186.3 L824.1,1185.4 L826.3,1184.5 L828.4,1183.6 L830.5,1182.7 L832.6,1181.8 L834.7,1180.9 L836.8,1179.9 L838.9,1179.0 L841.0,1178.1 L843.1,1177.2 L845.2,1176.3 L847.3,1175.3 L849.4,1174.4 L851.5,1173.5 L853.7,1172.5 L855.8,1171.6 L857.9,1170.6 L860.0,1169.7 L862.1,1168.7 L864.2,1167.8 L866.3,1166.8 L868.4,1165.8 L870.5,1164.8 L872.6,1163.8 L874.7,1162.8 L876.8,1161.8 L879.0,1160.8 L881.1,1159.8 L883.2,1158.7 L885.3,1157.7 L887.4,1156.6 L889.5,1155.5 L891.6,1154.5 L893.7,1153.4 L895.8,1152.3 L897.9,1151.2 L900.0,1150.0 L902.1,1148.9 L904.2,1147.7 L906.4,1146.6 L908.5,1145.4 L910.6,1144.2 L912.7,1143.0 L914.8,1141.8 L916.9,1140.5 L919.0,1139.3 L921.1,1138.0 L923.2,1136.7 L925.3,1135.4 L927.4,1134.1 L929.5,1132.8 L931.7,1131.4 L933.8,1130.1 L935.9,1128.7 L938.0,1127.3 L940.1,1125.8 L942.2,1124.4 L944.3,1122.9 L946.4,1121.5 L948.5,1120.0 L950.6,1118.4 L952.7,1116.9 L954.8,1115.4 L956.9,1113.8 L959.1,1112.2 L961.2,1110.6 L963.3,1109.0 L965.4,1107.4 L967.5,1105.7 L969.6,1104.1 L971.7,1102.4 L973.8,1100.7 L975.9,1099.0 L978.0,1097.3 L980.1,1095.5 L982.2,1093.8 L984.4,1092.0 L986.5,1090.3 L988.6,1088.5 L990.7,1086.7 L992.8,1084.9 L994.9,1083.1 L997.0,1081.2 L999.1,1079.4 L1001.2,1077.6 L1003.3,1075.7 L1005.4,1073.8 L1007.5,1072.0 L1009.6,1070.1 L1011.8,1068.2 L1013.9,1066.3 L1016.0,1064.4 L1018.1,1062.5 L1020.2,1060.5 L1022.3,1058.6 L1024.4,1056.7 L1026.5,1054.7 L1028.6,1052.8 L1030.7,1050.8 L1032.8,1048.8 L1034.9,1046.9 L1037.1,1044.9 L1039.2,1042.9 L1041.3,1041.0 L1043.4,1039.0 L1045.5,1037.0 L1047.6,1035.0 L1049.7,1033.0 L1051.8,1031.0 L1053.9,1029.0 L1056.0,1027.0 L1058.1,1025.0 L1060.2,1023.0 L1062.3,1021.0 L1064.5,1019.0 L1066.6,1017.0 L1068.7,1015.0 L1070.8,1013.0 L1072.9,1011.0 L1075.0,1008.9 L1077.1,1006.9 L1079.2,1004.9 L1081.3,1002.9 L1083.4,1000.9 L1085.5,999.0 L1087.6,997.0 L1089.8,995.0 L1091.9,993.0 L1094.0,991.1 L1096.1,989.1 L1098.2,987.2 L1100.3,985.3 L1102.4,983.3 L1104.5,981.5 L1106.6,979.6 L1108.7,977.7 L1110.8,975.9 L1112.9,974.1 L1115.0,972.3 L1117.2,970.5 L1119.3,968.7 L1121.4,967.0 L1123.5,965.3 L1125.6,963.6 L1127.7,962.0 L1129.8,960.3 L1131.9,958.8 L1134.0,957.2 L1136.1,955.7 L1138.2,954.2 L1140.3,952.7 L1142.5,951.3 L1144.6,949.9 L1146.7,948.6 L1148.8,947.3 L1150.9,946.0 L1153.0,944.7 L1155.1,943.5 L1157.2,942.4 L1159.3,941.2 L1161.4,940.2 L1163.5,939.1 L1165.6,938.1 L1167.7,937.1 L1169.9,936.2 L1172.0,935.3 L1174.1,934.5 L1176.2,933.6 L1178.3,932.9 L1180.4,932.2 L1182.5,931.5 L1184.6,930.8 L1186.7,930.2 L1188.8,929.7 L1190.9,929.2 L1193.0,928.7 L1195.2,928.3 L1197.3,927.9 L1199.4,927.6 L1201.5,927.3 L1203.6,927.1 L1205.7,926.9 L1207.8,926.7 L1209.9,926.6 L1212.0,926.6 L1214.1,926.5 L1216.2,926.6 L1218.3,926.6 L1220.4,926.7 L1222.6,926.8 L1224.7,927.0 L1226.8,927.2 L1228.9,927.4 L1231.0,927.7 L1233.1,928.0 L1235.2,928.3 L1237.3,928.7 L1239.4,929.1 L1241.5,929.5 L1243.6,929.9 L1245.7,930.4 L1247.9,930.9 L1250.0,931.4 L1252.1,931.9 L1254.2,932.5 L1256.3,933.1 L1258.4,933.7 L1260.5,934.3 L1262.6,935.0 L1264.7,935.6 L1266.8,936.3 L1268.9,937.0 L1271.0,937.7 L1273.1,938.5 L1275.3,939.2 L1277.4,940.0 L1279.5,940.7 L1281.6,941.5 L1283.7,942.3 L1285.8,943.1 L1287.9,943.9 L1290.0,944.7 L1292.1,945.5 L1294.2,946.3 L1296.3,947.2 L1298.4,948.0 L1300.6,948.8 L1302.7,949.7 L1304.8,950.5 L1306.9,951.3 L1309.0,952.2 L1311.1,953.0 L1313.2,953.8 L1315.3,954.6 L1317.4,955.5 L1319.5,956.3 L1321.6,957.1 L1323.7,957.9 L1325.8,958.7 L1328.0,959.4 L1330.1,960.2 L1332.2,961.0 L1334.3,961.7 L1336.4,962.4 L1338.5,963.2 L1340.6,963.9 L1342.7,964.6 L1344.8,965.2" fill="none" stroke="#a322ff" stroke-width="5.3" stroke-linejoin="round"/>
<path d="M822.0,1149.7 L824.1,1148.4 L826.3,1147.2 L828.4,1145.9 L830.5,1144.7 L832.6,1143.4 L834.7,1142.1 L836.8,1140.9 L838.9,1139.6 L841.0,1138.3 L843.1,1137.0 L845.2,1135.7 L847.3,1134.4 L849.4,1133.1 L851.5,1131.8 L853.7,1130.5 L855.8,1129.2 L857.9,1127.8 L860.0,1126.5 L862.1,1125.1 L864.2,1123.8 L866.3,1122.4 L868.4,1121.0 L870.5,1119.6 L872.6,1118.2 L874.7,1116.7 L876.8,1115.3 L879.0,1113.8 L881.1,1112.4 L883.2,1110.9 L885.3,1109.4 L887.4,1107.9 L889.5,1106.3 L891.6,1104.8 L893.7,1103.2 L895.8,1101.6 L897.9,1100.0 L900.0,1098.4 L902.1,1096.8 L904.2,1095.1 L906.4,1093.4 L908.5,1091.7 L910.6,1090.0 L912.7,1088.3 L914.8,1086.5 L916.9,1084.7 L919.0,1082.9 L921.1,1081.0 L923.2,1079.2 L925.3,1077.3 L927.4,1075.4 L929.5,1073.4 L931.7,1071.5 L933.8,1069.5 L935.9,1067.5 L938.0,1065.4 L940.1,1063.3 L942.2,1061.2 L944.3,1059.1 L946.4,1057.0 L948.5,1054.8 L950.6,1052.6 L952.7,1050.4 L954.8,1048.2 L956.9,1045.9 L959.1,1043.6 L961.2,1041.3 L963.3,1038.9 L965.4,1036.6 L967.5,1034.2 L969.6,1031.8 L971.7,1029.3 L973.8,1026.9 L975.9,1024.4 L978.0,1021.9 L980.1,1019.4 L982.2,1016.8 L984.4,1014.2 L986.5,1011.6 L988.6,1009.0 L990.7,1006.4 L992.8,1003.7 L994.9,1001.0 L997.0,998.3 L999.1,995.6 L1001.2,992.8 L1003.3,990.1 L1005.4,987.3 L1007.5,984.5 L1009.6,981.6 L1011.8,978.8 L1013.9,975.9 L1016.0,973.0 L1018.1,970.1 L1020.2,967.2 L1022.3,964.3 L1024.4,961.4 L1026.5,958.4 L1028.6,955.5 L1030.7,952.5 L1032.8,949.6 L1034.9,946.6 L1037.1,943.6 L1039.2,940.6 L1041.3,937.6 L1043.4,934.7 L1045.5,931.7 L1047.6,928.7 L1049.7,925.7 L1051.8,922.7 L1053.9,919.8 L1056.0,916.8 L1058.1,913.8 L1060.2,910.9 L1062.3,907.9 L1064.5,905.0 L1066.6,902.1 L1068.7,899.2 L1070.8,896.3 L1072.9,893.4 L1075.0,890.5 L1077.1,887.6 L1079.2,884.8 L1081.3,882.0 L1083.4,879.2 L1085.5,876.4 L1087.6,873.6 L1089.8,870.8 L1091.9,868.1 L1094.0,865.4 L1096.1,862.7 L1098.2,860.1 L1100.3,857.4 L1102.4,854.8 L1104.5,852.2 L1106.6,849.7 L1108.7,847.1 L1110.8,844.6 L1112.9,842.2 L1115.0,839.7 L1117.2,837.3 L1119.3,835.0 L1121.4,832.6 L1123.5,830.3 L1125.6,828.1 L1127.7,825.8 L1129.8,823.6 L1131.9,821.5 L1134.0,819.4 L1136.1,817.3 L1138.2,815.2 L1140.3,813.2 L1142.5,811.3 L1144.6,809.4 L1146.7,807.5 L1148.8,805.7 L1150.9,803.9 L1153.0,802.2 L1155.1,800.5 L1157.2,798.9 L1159.3,797.3 L1161.4,795.8 L1163.5,794.3 L1165.6,792.9 L1167.7,791.5 L1169.9,790.2 L1172.0,789.0 L1174.1,787.7 L1176.2,786.6 L1178.3,785.5 L1180.4,784.5 L1182.5,783.5 L1184.6,782.6 L1186.7,781.7 L1188.8,781.0 L1190.9,780.2 L1193.0,779.6 L1195.2,779.0 L1197.3,778.4 L1199.4,778.0 L1201.5,777.6 L1203.6,777.3 L1205.7,777.0 L1207.8,776.8 L1209.9,776.6 L1212.0,776.6 L1214.1,776.5 L1216.2,776.6 L1218.3,776.7 L1220.4,776.8 L1222.6,777.0 L1224.7,777.3 L1226.8,777.6 L1228.9,777.9 L1231.0,778.3 L1233.1,778.8 L1235.2,779.2 L1237.3,779.8 L1239.4,780.4 L1241.5,781.0 L1243.6,781.6 L1245.7,782.3 L1247.9,783.0 L1250.0,783.8 L1252.1,784.6 L1254.2,785.4 L1256.3,786.3 L1258.4,787.2 L1260.5,788.1 L1262.6,789.1 L1264.7,790.0 L1266.8,791.0 L1268.9,792.0 L1271.0,793.1 L1273.1,794.1 L1275.3,795.2 L1277.4,796.3 L1279.5,797.4 L1281.6,798.6 L1283.7,799.7 L1285.8,800.9 L1287.9,802.0 L1290.0,803.2 L1292.1,804.4 L1294.2,805.5 L1296.3,806.7 L1298.4,807.9 L1300.6,809.1 L1302.7,810.3 L1304.8,811.5 L1306.9,812.7 L1309.0,813.9 L1311.1,815.1 L1313.2,816.3 L1315.3,817.4 L1317.4,818.6 L1319.5,819.7 L1321.6,820.9 L1323.7,822.0 L1325.8,823.1 L1328.0,824.2 L1330.1,825.3 L1332.2,826.3 L1334.3,827.4 L1336.4,828.4 L1338.5,829.4 L1340.6,830.3 L1342.7,831.3 L1344.8,832.2" fill="none" stroke="#ff3a8c" stroke-width="5.3" stroke-linejoin="round"/>
<path d="M822.0,1258.1 L824.1,1258.1 L826.3,1258.0 L828.4,1257.9 L830.5,1257.8 L832.6,1257.7 L834.7,1257.6 L836.8,1257.5 L838.9,1257.4 L841.0,1257.3 L843.1,1257.2 L845.2,1257.0 L847.3,1256.9 L849.4,1256.8 L851.5,1256.6 L853.7,1256.5 L855.8,1256.3 L857.9,1256.2 L860.0,1256.0 L862.1,1255.9 L864.2,1255.7 L866.3,1255.5 L868.4,1255.3 L870.5,1255.2 L872.6,1255.0 L874.7,1254.8 L876.8,1254.6 L879.0,1254.4 L881.1,1254.2 L883.2,1254.0 L885.3,1253.8 L887.4,1253.6 L889.5,1253.4 L891.6,1253.2 L893.7,1252.9 L895.8,1252.7 L897.9,1252.5 L900.0,1252.3 L902.1,1252.0 L904.2,1251.8 L906.4,1251.5 L908.5,1251.3 L910.6,1251.1 L912.7,1250.8 L914.8,1250.6 L916.9,1250.3 L919.0,1250.0 L921.1,1249.8 L923.2,1249.5 L925.3,1249.3 L927.4,1249.0 L929.5,1248.7 L931.7,1248.4 L933.8,1248.2 L935.9,1247.9 L938.0,1247.6 L940.1,1247.3 L942.2,1247.0 L944.3,1246.8 L946.4,1246.5 L948.5,1246.2 L950.6,1245.9 L952.7,1245.6 L954.8,1245.3 L956.9,1245.0 L959.1,1244.7 L961.2,1244.4 L963.3,1244.1 L965.4,1243.8 L967.5,1243.5 L969.6,1243.2 L971.7,1242.9 L973.8,1242.6 L975.9,1242.3 L978.0,1242.0 L980.1,1241.6 L982.2,1241.3 L984.4,1241.0 L986.5,1240.7 L988.6,1240.4 L990.7,1240.1 L992.8,1239.8 L994.9,1239.4 L997.0,1239.1 L999.1,1238.8 L1001.2,1238.5 L1003.3,1238.2 L1005.4,1237.8 L1007.5,1237.5 L1009.6,1237.2 L1011.8,1236.9 L1013.9,1236.6 L1016.0,1236.2 L1018.1,1235.9 L1020.2,1235.6 L1022.3,1235.3 L1024.4,1235.0 L1026.5,1234.6 L1028.6,1234.3 L1030.7,1234.0 L1032.8,1233.7 L1034.9,1233.4 L1037.1,1233.0 L1039.2,1232.7 L1041.3,1232.4 L1043.4,1232.1 L1045.5,1231.8 L1047.6,1231.5 L1049.7,1231.1 L1051.8,1230.8 L1053.9,1230.5 L1056.0,1230.2 L1058.1,1229.9 L1060.2,1229.6 L1062.3,1229.3 L1064.5,1229.0 L1066.6,1228.7 L1068.7,1228.4 L1070.8,1228.1 L1072.9,1227.8 L1075.0,1227.5 L1077.1,1227.2 L1079.2,1226.9 L1081.3,1226.6 L1083.4,1226.3 L1085.5,1226.0 L1087.6,1225.7 L1089.8,1225.4 L1091.9,1225.2 L1094.0,1224.9 L1096.1,1224.6 L1098.2,1224.3 L1100.3,1224.0 L1102.4,1223.8 L1104.5,1223.5 L1106.6,1223.2 L1108.7,1223.0 L1110.8,1222.7 L1112.9,1222.5 L1115.0,1222.2 L1117.2,1221.9 L1119.3,1221.7 L1121.4,1221.4 L1123.5,1221.2 L1125.6,1221.0 L1127.7,1220.7 L1129.8,1220.5 L1131.9,1220.3 L1134.0,1220.0 L1136.1,1219.8 L1138.2,1219.6 L1140.3,1219.4 L1142.5,1219.1 L1144.6,1218.9 L1146.7,1218.7 L1148.8,1218.5 L1150.9,1218.3 L1153.0,1218.1 L1155.1,1217.9 L1157.2,1217.7 L1159.3,1217.5 L1161.4,1217.4 L1163.5,1217.2 L1165.6,1217.0 L1167.7,1216.8 L1169.9,1216.7 L1172.0,1216.5 L1174.1,1216.4 L1176.2,1216.2 L1178.3,1216.1 L1180.4,1215.9 L1182.5,1215.8 L1184.6,1215.7 L1186.7,1215.5 L1188.8,1215.4 L1190.9,1215.3 L1193.0,1215.2 L1195.2,1215.1 L1197.3,1215.0 L1199.4,1214.9 L1201.5,1214.8 L1203.6,1214.7 L1205.7,1214.6 L1207.8,1214.5 L1209.9,1214.4 L1212.0,1214.4 L1214.1,1214.3 L1216.2,1214.2 L1218.3,1214.2 L1220.4,1214.2 L1222.6,1214.1 L1224.7,1214.1 L1226.8,1214.1 L1228.9,1214.0 L1231.0,1214.0 L1233.1,1214.0 L1235.2,1214.0 L1237.3,1214.0 L1239.4,1214.0 L1241.5,1214.0 L1243.6,1214.0 L1245.7,1214.1 L1247.9,1214.1 L1250.0,1214.1 L1252.1,1214.2 L1254.2,1214.2 L1256.3,1214.3 L1258.4,1214.4 L1260.5,1214.5 L1262.6,1214.5 L1264.7,1214.6 L1266.8,1214.7 L1268.9,1214.8 L1271.0,1214.9 L1273.1,1215.0 L1275.3,1215.2 L1277.4,1215.3 L1279.5,1215.4 L1281.6,1215.6 L1283.7,1215.7 L1285.8,1215.9 L1287.9,1216.1 L1290.0,1216.2 L1292.1,1216.4 L1294.2,1216.6 L1296.3,1216.8 L1298.4,1217.0 L1300.6,1217.2 L1302.7,1217.4 L1304.8,1217.7 L1306.9,1217.9 L1309.0,1218.2 L1311.1,1218.4 L1313.2,1218.7 L1315.3,1218.9 L1317.4,1219.2 L1319.5,1219.5 L1321.6,1219.8 L1323.7,1220.1 L1325.8,1220.4 L1328.0,1220.8 L1330.1,1221.1 L1332.2,1221.4 L1334.3,1221.8 L1336.4,1222.1 L1338.5,1222.5 L1340.6,1222.9 L1342.7,1223.3 L1344.8,1223.6" fill="none" stroke="#b0501a" stroke-width="5.3" stroke-linejoin="round"/>
<line x1="822.04" y1="1273.80" x2="822.04" y2="1191.04" stroke="#ff3a8c" stroke-width="3.2"/>
<path d="M822.04,1191.04 L1007.54,1191.04" stroke="#06062a" stroke-width="3.4" stroke-dasharray="13.5 14.3" fill="none"/>
<path d="M1369.27,1191.04 L1007.54,1191.04" stroke="#06062a" stroke-width="3.4" stroke-dasharray="13.5 14.3" fill="none"/>
<line x1="1007.54" y1="1298.50" x2="1007.54" y2="753.10" stroke="#06062a" stroke-width="3.4" stroke-dasharray="13.5 14.3"/>
<line x1="1490.50" y1="1273.80" x2="2046.17" y2="1273.80" stroke="#bebebe" stroke-width="2.7"/>
<text x="1459.10" y="1285.10" class="tk">0</text>
<line x1="1490.50" y1="1094.40" x2="2046.17" y2="1094.40" stroke="#bebebe" stroke-width="2.7"/>
<text x="1441.02" y="1105.70" class="tk">10</text>
<line x1="1490.50" y1="915.00" x2="2046.17" y2="915.00" stroke="#bebebe" stroke-width="2.7"/>
<text x="1441.02" y="926.30" class="tk">20</text>
<line x1="1490.50" y1="1298.50" x2="2046.17" y2="1298.50" stroke="#06062a" stroke-width="3"/>
<line x1="1515.80" y1="1300.00" x2="1515.80" y2="1306.80" stroke="#3a3a3a" stroke-width="2.9"/>
<text x="1497.54" y="1336.10" class="tk">20</text>
<line x1="1600.12" y1="1300.00" x2="1600.12" y2="1306.80" stroke="#3a3a3a" stroke-width="2.9"/>
<text x="1582.06" y="1336.10" class="tk">30</text>
<line x1="1684.44" y1="1300.00" x2="1684.44" y2="1306.80" stroke="#3a3a3a" stroke-width="2.9"/>
<text x="1666.63" y="1336.10" class="tk">40</text>
<line x1="1768.76" y1="1300.00" x2="1768.76" y2="1306.80" stroke="#3a3a3a" stroke-width="2.9"/>
<text x="1750.67" y="1336.10" class="tk">50</text>
<line x1="1853.08" y1="1300.00" x2="1853.08" y2="1306.80" stroke="#3a3a3a" stroke-width="2.9"/>
<text x="1834.81" y="1336.10" class="tk">60</text>
<line x1="1937.40" y1="1300.00" x2="1937.40" y2="1306.80" stroke="#3a3a3a" stroke-width="2.9"/>
<text x="1919.13" y="1336.10" class="tk">70</text>
<line x1="2021.72" y1="1300.00" x2="2021.72" y2="1306.80" stroke="#3a3a3a" stroke-width="2.9"/>
<text x="2003.57" y="1336.10" class="tk">80</text>
<text x="1740.12" y="1372.80" class="tt">Age</text>
<text x="1488.04" y="729.90" class="tt">PC</text>
<text transform="translate(1424.80,1025.80) rotate(-90)" x="-206.80" class="tt">Annual incidence (per 1,000)</text>
<path d="M1498.9,1273.7 L1501.0,1273.7 L1503.2,1273.7 L1505.3,1273.7 L1507.4,1273.8 L1509.5,1273.8 L1511.6,1273.8 L1513.7,1273.8 L1515.8,1273.8 L1517.9,1273.8 L1520.0,1273.8 L1522.1,1273.8 L1524.2,1273.8 L1526.3,1273.8 L1528.4,1273.8 L1530.6,1273.8 L1532.7,1273.8 L1534.8,1273.8 L1536.9,1273.8 L1539.0,1273.8 L1541.1,1273.8 L1543.2,1273.8 L1545.3,1273.8 L1547.4,1273.8 L1549.5,1273.8 L1551.6,1273.8 L1553.7,1273.8 L1555.9,1273.8 L1558.0,1273.8 L1560.1,1273.8 L1562.2,1273.8 L1564.3,1273.8 L1566.4,1273.8 L1568.5,1273.8 L1570.6,1273.8 L1572.7,1273.8 L1574.8,1273.8 L1576.9,1273.8 L1579.0,1273.8 L1581.1,1273.8 L1583.3,1273.8 L1585.4,1273.8 L1587.5,1273.8 L1589.6,1273.8 L1591.7,1273.8 L1593.8,1273.8 L1595.9,1273.8 L1598.0,1273.8 L1600.1,1273.7 L1602.2,1273.7 L1604.3,1273.7 L1606.4,1273.7 L1608.6,1273.7 L1610.7,1273.7 L1612.8,1273.7 L1614.9,1273.7 L1617.0,1273.7 L1619.1,1273.7 L1621.2,1273.6 L1623.3,1273.6 L1625.4,1273.6 L1627.5,1273.6 L1629.6,1273.6 L1631.7,1273.6 L1633.8,1273.6 L1636.0,1273.6 L1638.1,1273.6 L1640.2,1273.5 L1642.3,1273.5 L1644.4,1273.5 L1646.5,1273.5 L1648.6,1273.5 L1650.7,1273.5 L1652.8,1273.5 L1654.9,1273.5 L1657.0,1273.5 L1659.1,1273.5 L1661.3,1273.5 L1663.4,1273.5 L1665.5,1273.4 L1667.6,1273.4 L1669.7,1273.4 L1671.8,1273.4 L1673.9,1273.4 L1676.0,1273.3 L1678.1,1273.3 L1680.2,1273.3 L1682.3,1273.2 L1684.4,1273.2 L1686.5,1273.1 L1688.7,1273.1 L1690.8,1273.0 L1692.9,1272.9 L1695.0,1272.8 L1697.1,1272.7 L1699.2,1272.6 L1701.3,1272.5 L1703.4,1272.4 L1705.5,1272.3 L1707.6,1272.2 L1709.7,1272.0 L1711.8,1271.9 L1714.0,1271.7 L1716.1,1271.5 L1718.2,1271.3 L1720.3,1271.1 L1722.4,1270.9 L1724.5,1270.7 L1726.6,1270.5 L1728.7,1270.2 L1730.8,1269.9 L1732.9,1269.7 L1735.0,1269.4 L1737.1,1269.1 L1739.2,1268.7 L1741.4,1268.4 L1743.5,1268.0 L1745.6,1267.7 L1747.7,1267.3 L1749.8,1266.8 L1751.9,1266.4 L1754.0,1266.0 L1756.1,1265.5 L1758.2,1265.0 L1760.3,1264.5 L1762.4,1264.0 L1764.5,1263.5 L1766.7,1262.9 L1768.8,1262.3 L1770.9,1261.7 L1773.0,1261.1 L1775.1,1260.4 L1777.2,1259.8 L1779.3,1259.1 L1781.4,1258.4 L1783.5,1257.6 L1785.6,1256.9 L1787.7,1256.1 L1789.8,1255.3 L1791.9,1254.5 L1794.1,1253.6 L1796.2,1252.7 L1798.3,1251.8 L1800.4,1250.9 L1802.5,1250.0 L1804.6,1249.0 L1806.7,1248.0 L1808.8,1247.0 L1810.9,1245.9 L1813.0,1244.8 L1815.1,1243.7 L1817.2,1242.6 L1819.4,1241.4 L1821.5,1240.3 L1823.6,1239.0 L1825.7,1237.8 L1827.8,1236.5 L1829.9,1235.3 L1832.0,1233.9 L1834.1,1232.6 L1836.2,1231.2 L1838.3,1229.8 L1840.4,1228.4 L1842.5,1226.9 L1844.6,1225.4 L1846.8,1223.9 L1848.9,1222.3 L1851.0,1220.7 L1853.1,1219.1 L1855.2,1217.4 L1857.3,1215.8 L1859.4,1214.0 L1861.5,1212.3 L1863.6,1210.5 L1865.7,1208.7 L1867.8,1206.9 L1869.9,1205.0 L1872.1,1203.1 L1874.2,1201.1 L1876.3,1199.2 L1878.4,1197.1 L1880.5,1195.1 L1882.6,1193.0 L1884.7,1190.9 L1886.8,1188.7 L1888.9,1186.6 L1891.0,1184.3 L1893.1,1182.1 L1895.2,1179.8 L1897.3,1177.5 L1899.5,1175.3 L1901.6,1173.0 L1903.7,1170.9 L1905.8,1168.7 L1907.9,1166.7 L1910.0,1164.7 L1912.1,1162.8 L1914.2,1161.0 L1916.3,1159.4 L1918.4,1157.9 L1920.5,1156.6 L1922.6,1155.4 L1924.8,1154.4 L1926.9,1153.7 L1929.0,1153.1 L1931.1,1152.7 L1933.2,1152.5 L1935.3,1152.4 L1937.4,1152.4 L1939.5,1152.6 L1941.6,1152.9 L1943.7,1153.3 L1945.8,1153.8 L1947.9,1154.3 L1950.0,1155.0 L1952.2,1155.6 L1954.3,1156.3 L1956.4,1157.1 L1958.5,1157.8 L1960.6,1158.6 L1962.7,1159.4 L1964.8,1160.2 L1966.9,1161.1 L1969.0,1161.9 L1971.1,1162.8 L1973.2,1163.6 L1975.3,1164.5 L1977.5,1165.4 L1979.6,1166.3 L1981.7,1167.1 L1983.8,1168.0 L1985.9,1168.9 L1988.0,1169.8 L1990.1,1170.7 L1992.2,1171.5 L1994.3,1172.4 L1996.4,1173.3 L1998.5,1174.1 L2000.6,1174.9 L2002.7,1175.7 L2004.9,1176.5 L2007.0,1177.3 L2009.1,1178.1 L2011.2,1178.8 L2013.3,1179.5 L2015.4,1180.2 L2017.5,1180.9 L2019.6,1181.5 L2021.7,1182.1" fill="none" stroke="#19ffc4" stroke-width="5.3" stroke-linejoin="round"/>
<path d="M1498.9,1273.8 L1501.0,1273.8 L1503.2,1273.8 L1505.3,1273.8 L1507.4,1273.8 L1509.5,1273.8 L1511.6,1273.8 L1513.7,1273.8 L1515.8,1273.8 L1517.9,1273.8 L1520.0,1273.8 L1522.1,1273.8 L1524.2,1273.8 L1526.3,1273.8 L1528.4,1273.8 L1530.6,1273.8 L1532.7,1273.8 L1534.8,1273.8 L1536.9,1273.8 L1539.0,1273.8 L1541.1,1273.8 L1543.2,1273.8 L1545.3,1273.8 L1547.4,1273.8 L1549.5,1273.8 L1551.6,1273.8 L1553.7,1273.8 L1555.9,1273.8 L1558.0,1273.8 L1560.1,1273.8 L1562.2,1273.8 L1564.3,1273.8 L1566.4,1273.8 L1568.5,1273.8 L1570.6,1273.8 L1572.7,1273.8 L1574.8,1273.8 L1576.9,1273.8 L1579.0,1273.8 L1581.1,1273.8 L1583.3,1273.8 L1585.4,1273.8 L1587.5,1273.8 L1589.6,1273.8 L1591.7,1273.8 L1593.8,1273.8 L1595.9,1273.8 L1598.0,1273.8 L1600.1,1273.8 L1602.2,1273.8 L1604.3,1273.8 L1606.4,1273.8 L1608.6,1273.8 L1610.7,1273.8 L1612.8,1273.8 L1614.9,1273.8 L1617.0,1273.8 L1619.1,1273.8 L1621.2,1273.8 L1623.3,1273.8 L1625.4,1273.8 L1627.5,1273.8 L1629.6,1273.8 L1631.7,1273.8 L1633.8,1273.7 L1636.0,1273.7 L1638.1,1273.7 L1640.2,1273.7 L1642.3,1273.7 L1644.4,1273.6 L1646.5,1273.6 L1648.6,1273.6 L1650.7,1273.5 L1652.8,1273.5 L1654.9,1273.5 L1657.0,1273.4 L1659.1,1273.4 L1661.3,1273.4 L1663.4,1273.3 L1665.5,1273.3 L1667.6,1273.2 L1669.7,1273.2 L1671.8,1273.1 L1673.9,1273.1 L1676.0,1273.0 L1678.1,1273.0 L1680.2,1272.9 L1682.3,1272.8 L1684.4,1272.8 L1686.5,1272.7 L1688.7,1272.6 L1690.8,1272.6 L1692.9,1272.5 L1695.0,1272.4 L1697.1,1272.2 L1699.2,1272.1 L1701.3,1272.0 L1703.4,1271.8 L1705.5,1271.6 L1707.6,1271.4 L1709.7,1271.1 L1711.8,1270.8 L1714.0,1270.5 L1716.1,1270.2 L1718.2,1269.8 L1720.3,1269.3 L1722.4,1268.9 L1724.5,1268.3 L1726.6,1267.8 L1728.7,1267.2 L1730.8,1266.5 L1732.9,1265.8 L1735.0,1265.0 L1737.1,1264.2 L1739.2,1263.3 L1741.4,1262.3 L1743.5,1261.2 L1745.6,1260.1 L1747.7,1258.8 L1749.8,1257.4 L1751.9,1255.9 L1754.0,1254.1 L1756.1,1252.3 L1758.2,1250.3 L1760.3,1248.3 L1762.4,1246.1 L1764.5,1243.9 L1766.7,1241.5 L1768.8,1239.1 L1770.9,1236.5 L1773.0,1233.9 L1775.1,1231.1 L1777.2,1228.2 L1779.3,1225.2 L1781.4,1222.1 L1783.5,1218.9 L1785.6,1215.7 L1787.7,1212.3 L1789.8,1208.9 L1791.9,1205.5 L1794.1,1202.0 L1796.2,1198.4 L1798.3,1194.9 L1800.4,1191.3 L1802.5,1187.7 L1804.6,1184.1 L1806.7,1180.5 L1808.8,1176.9 L1810.9,1173.2 L1813.0,1169.6 L1815.1,1165.9 L1817.2,1162.2 L1819.4,1158.5 L1821.5,1154.8 L1823.6,1151.1 L1825.7,1147.3 L1827.8,1143.5 L1829.9,1139.7 L1832.0,1135.9 L1834.1,1132.0 L1836.2,1128.1 L1838.3,1124.2 L1840.4,1120.2 L1842.5,1116.1 L1844.6,1111.9 L1846.8,1107.6 L1848.9,1103.3 L1851.0,1098.8 L1853.1,1094.2 L1855.2,1089.6 L1857.3,1084.8 L1859.4,1079.9 L1861.5,1075.0 L1863.6,1070.0 L1865.7,1064.9 L1867.8,1059.7 L1869.9,1054.4 L1872.1,1049.1 L1874.2,1043.8 L1876.3,1038.4 L1878.4,1032.9 L1880.5,1027.4 L1882.6,1021.9 L1884.7,1016.3 L1886.8,1010.7 L1888.9,1005.1 L1891.0,999.4 L1893.1,993.7 L1895.2,988.0 L1897.3,982.2 L1899.5,976.4 L1901.6,970.6 L1903.7,964.9 L1905.8,959.5 L1907.9,954.3 L1910.0,949.4 L1912.1,944.9 L1914.2,940.8 L1916.3,937.0 L1918.4,933.5 L1920.5,930.5 L1922.6,927.7 L1924.8,925.3 L1926.9,923.2 L1929.0,921.4 L1931.1,920.0 L1933.2,918.9 L1935.3,918.1 L1937.4,917.6 L1939.5,917.5 L1941.6,917.6 L1943.7,918.0 L1945.8,918.6 L1947.9,919.5 L1950.0,920.6 L1952.2,921.9 L1954.3,923.4 L1956.4,925.0 L1958.5,926.7 L1960.6,928.6 L1962.7,930.6 L1964.8,932.6 L1966.9,934.8 L1969.0,936.9 L1971.1,939.1 L1973.2,941.4 L1975.3,943.7 L1977.5,946.0 L1979.6,948.5 L1981.7,950.9 L1983.8,953.5 L1985.9,956.0 L1988.0,958.7 L1990.1,961.4 L1992.2,964.1 L1994.3,967.0 L1996.4,969.8 L1998.5,972.8 L2000.6,975.8 L2002.7,978.9 L2004.9,982.0 L2007.0,985.2 L2009.1,988.5 L2011.2,991.9 L2013.3,995.3 L2015.4,998.8 L2017.5,1002.3 L2019.6,1006.0 L2021.7,1009.7" fill="none" stroke="#a322ff" stroke-width="5.3" stroke-linejoin="round"/>
<path d="M1498.9,1273.8 L1501.0,1273.8 L1503.2,1273.8 L1505.3,1273.8 L1507.4,1273.8 L1509.5,1273.8 L1511.6,1273.7 L1513.7,1273.7 L1515.8,1273.7 L1517.9,1273.6 L1520.0,1273.6 L1522.1,1273.6 L1524.2,1273.6 L1526.3,1273.6 L1528.4,1273.6 L1530.6,1273.6 L1532.7,1273.6 L1534.8,1273.6 L1536.9,1273.6 L1539.0,1273.6 L1541.1,1273.6 L1543.2,1273.6 L1545.3,1273.6 L1547.4,1273.6 L1549.5,1273.6 L1551.6,1273.7 L1553.7,1273.7 L1555.9,1273.7 L1558.0,1273.7 L1560.1,1273.7 L1562.2,1273.8 L1564.3,1273.8 L1566.4,1273.8 L1568.5,1273.8 L1570.6,1273.8 L1572.7,1273.8 L1574.8,1273.8 L1576.9,1273.8 L1579.0,1273.8 L1581.1,1273.8 L1583.3,1273.8 L1585.4,1273.8 L1587.5,1273.8 L1589.6,1273.8 L1591.7,1273.8 L1593.8,1273.8 L1595.9,1273.8 L1598.0,1273.8 L1600.1,1273.8 L1602.2,1273.8 L1604.3,1273.8 L1606.4,1273.8 L1608.6,1273.8 L1610.7,1273.8 L1612.8,1273.8 L1614.9,1273.8 L1617.0,1273.8 L1619.1,1273.8 L1621.2,1273.8 L1623.3,1273.7 L1625.4,1273.7 L1627.5,1273.6 L1629.6,1273.6 L1631.7,1273.5 L1633.8,1273.4 L1636.0,1273.3 L1638.1,1273.3 L1640.2,1273.2 L1642.3,1273.1 L1644.4,1273.0 L1646.5,1272.9 L1648.6,1272.7 L1650.7,1272.6 L1652.8,1272.5 L1654.9,1272.3 L1657.0,1272.2 L1659.1,1272.0 L1661.3,1271.9 L1663.4,1271.7 L1665.5,1271.5 L1667.6,1271.3 L1669.7,1271.1 L1671.8,1270.9 L1673.9,1270.7 L1676.0,1270.5 L1678.1,1270.2 L1680.2,1270.0 L1682.3,1269.7 L1684.4,1269.5 L1686.5,1269.2 L1688.7,1268.9 L1690.8,1268.6 L1692.9,1268.3 L1695.0,1267.9 L1697.1,1267.6 L1699.2,1267.2 L1701.3,1266.8 L1703.4,1266.4 L1705.5,1266.0 L1707.6,1265.6 L1709.7,1265.1 L1711.8,1264.6 L1714.0,1264.1 L1716.1,1263.5 L1718.2,1263.0 L1720.3,1262.3 L1722.4,1261.7 L1724.5,1261.0 L1726.6,1260.3 L1728.7,1259.4 L1730.8,1258.5 L1732.9,1257.6 L1735.0,1256.5 L1737.1,1255.3 L1739.2,1254.0 L1741.4,1252.6 L1743.5,1251.1 L1745.6,1249.4 L1747.7,1247.6 L1749.8,1245.6 L1751.9,1243.4 L1754.0,1241.1 L1756.1,1238.6 L1758.2,1236.0 L1760.3,1233.1 L1762.4,1230.1 L1764.5,1226.9 L1766.7,1223.6 L1768.8,1220.1 L1770.9,1216.5 L1773.0,1212.8 L1775.1,1208.9 L1777.2,1205.0 L1779.3,1200.9 L1781.4,1196.8 L1783.5,1192.5 L1785.6,1188.2 L1787.7,1183.8 L1789.8,1179.4 L1791.9,1174.9 L1794.1,1170.3 L1796.2,1165.7 L1798.3,1161.1 L1800.4,1156.4 L1802.5,1151.7 L1804.6,1147.1 L1806.7,1142.3 L1808.8,1137.6 L1810.9,1132.8 L1813.0,1128.0 L1815.1,1123.2 L1817.2,1118.3 L1819.4,1113.4 L1821.5,1108.4 L1823.6,1103.4 L1825.7,1098.4 L1827.8,1093.3 L1829.9,1088.2 L1832.0,1083.0 L1834.1,1077.7 L1836.2,1072.3 L1838.3,1066.9 L1840.4,1061.3 L1842.5,1055.7 L1844.6,1049.9 L1846.8,1043.9 L1848.9,1037.8 L1851.0,1031.5 L1853.1,1025.1 L1855.2,1018.4 L1857.3,1011.6 L1859.4,1004.5 L1861.5,997.2 L1863.6,989.7 L1865.7,982.0 L1867.8,974.1 L1869.9,966.0 L1872.1,957.8 L1874.2,949.4 L1876.3,941.0 L1878.4,932.6 L1880.5,924.1 L1882.6,915.7 L1884.7,907.2 L1886.8,898.8 L1888.9,890.5 L1891.0,882.3 L1893.1,874.3 L1895.2,866.4 L1897.3,858.7 L1899.5,851.2 L1901.6,844.0 L1903.7,837.1 L1905.8,830.4 L1907.9,824.1 L1910.0,818.1 L1912.1,812.5 L1914.2,807.4 L1916.3,802.6 L1918.4,798.2 L1920.5,794.3 L1922.6,790.7 L1924.8,787.6 L1926.9,784.9 L1929.0,782.5 L1931.1,780.6 L1933.2,779.0 L1935.3,777.8 L1937.4,777.0 L1939.5,776.6 L1941.6,776.6 L1943.7,776.9 L1945.8,777.5 L1947.9,778.4 L1950.0,779.6 L1952.2,781.1 L1954.3,782.8 L1956.4,784.7 L1958.5,786.8 L1960.6,789.1 L1962.7,791.5 L1964.8,794.1 L1966.9,796.7 L1969.0,799.5 L1971.1,802.3 L1973.2,805.2 L1975.3,808.2 L1977.5,811.3 L1979.6,814.4 L1981.7,817.7 L1983.8,821.0 L1985.9,824.5 L1988.0,828.0 L1990.1,831.7 L1992.2,835.4 L1994.3,839.3 L1996.4,843.3 L1998.5,847.4 L2000.6,851.6 L2002.7,856.0 L2004.9,860.4 L2007.0,865.1 L2009.1,869.8 L2011.2,874.7 L2013.3,879.8 L2015.4,885.0 L2017.5,890.3 L2019.6,895.8 L2021.7,901.5" fill="none" stroke="#ff3a8c" stroke-width="5.3" stroke-linejoin="round"/>
<path d="M1498.9,1273.8 L1501.0,1273.8 L1503.2,1273.8 L1505.3,1273.8 L1507.4,1273.8 L1509.5,1273.8 L1511.6,1273.8 L1513.7,1273.8 L1515.8,1273.8 L1517.9,1273.8 L1520.0,1273.7 L1522.1,1273.6 L1524.2,1273.5 L1526.3,1273.5 L1528.4,1273.4 L1530.6,1273.3 L1532.7,1273.3 L1534.8,1273.2 L1536.9,1273.2 L1539.0,1273.1 L1541.1,1273.1 L1543.2,1273.1 L1545.3,1273.0 L1547.4,1273.0 L1549.5,1273.0 L1551.6,1273.0 L1553.7,1273.0 L1555.9,1273.0 L1558.0,1272.9 L1560.1,1272.9 L1562.2,1272.9 L1564.3,1272.9 L1566.4,1272.9 L1568.5,1272.9 L1570.6,1273.0 L1572.7,1273.0 L1574.8,1273.0 L1576.9,1273.0 L1579.0,1273.0 L1581.1,1273.0 L1583.3,1273.1 L1585.4,1273.1 L1587.5,1273.1 L1589.6,1273.1 L1591.7,1273.2 L1593.8,1273.2 L1595.9,1273.2 L1598.0,1273.2 L1600.1,1273.3 L1602.2,1273.3 L1604.3,1273.3 L1606.4,1273.4 L1608.6,1273.4 L1610.7,1273.4 L1612.8,1273.5 L1614.9,1273.5 L1617.0,1273.5 L1619.1,1273.6 L1621.2,1273.6 L1623.3,1273.6 L1625.4,1273.7 L1627.5,1273.7 L1629.6,1273.7 L1631.7,1273.8 L1633.8,1273.8 L1636.0,1273.8 L1638.1,1273.8 L1640.2,1273.8 L1642.3,1273.8 L1644.4,1273.8 L1646.5,1273.8 L1648.6,1273.8 L1650.7,1273.8 L1652.8,1273.8 L1654.9,1273.8 L1657.0,1273.8 L1659.1,1273.8 L1661.3,1273.8 L1663.4,1273.8 L1665.5,1273.8 L1667.6,1273.8 L1669.7,1273.8 L1671.8,1273.8 L1673.9,1273.8 L1676.0,1273.8 L1678.1,1273.8 L1680.2,1273.8 L1682.3,1273.8 L1684.4,1273.8 L1686.5,1273.8 L1688.7,1273.8 L1690.8,1273.8 L1692.9,1273.8 L1695.0,1273.7 L1697.1,1273.7 L1699.2,1273.6 L1701.3,1273.6 L1703.4,1273.5 L1705.5,1273.4 L1707.6,1273.4 L1709.7,1273.3 L1711.8,1273.2 L1714.0,1273.1 L1716.1,1273.0 L1718.2,1272.9 L1720.3,1272.8 L1722.4,1272.7 L1724.5,1272.6 L1726.6,1272.5 L1728.7,1272.3 L1730.8,1272.2 L1732.9,1272.0 L1735.0,1271.9 L1737.1,1271.7 L1739.2,1271.6 L1741.4,1271.4 L1743.5,1271.2 L1745.6,1271.0 L1747.7,1270.9 L1749.8,1270.7 L1751.9,1270.5 L1754.0,1270.2 L1756.1,1270.0 L1758.2,1269.8 L1760.3,1269.6 L1762.4,1269.3 L1764.5,1269.1 L1766.7,1268.8 L1768.8,1268.6 L1770.9,1268.3 L1773.0,1268.0 L1775.1,1267.8 L1777.2,1267.5 L1779.3,1267.2 L1781.4,1266.9 L1783.5,1266.6 L1785.6,1266.3 L1787.7,1265.9 L1789.8,1265.6 L1791.9,1265.3 L1794.1,1265.0 L1796.2,1264.6 L1798.3,1264.3 L1800.4,1263.9 L1802.5,1263.5 L1804.6,1263.2 L1806.7,1262.8 L1808.8,1262.4 L1810.9,1262.0 L1813.0,1261.6 L1815.1,1261.2 L1817.2,1260.8 L1819.4,1260.4 L1821.5,1260.0 L1823.6,1259.6 L1825.7,1259.1 L1827.8,1258.7 L1829.9,1258.3 L1832.0,1257.8 L1834.1,1257.4 L1836.2,1256.9 L1838.3,1256.4 L1840.4,1256.0 L1842.5,1255.5 L1844.6,1255.0 L1846.8,1254.5 L1848.9,1254.0 L1851.0,1253.5 L1853.1,1253.0 L1855.2,1252.5 L1857.3,1252.0 L1859.4,1251.5 L1861.5,1250.9 L1863.6,1250.4 L1865.7,1249.9 L1867.8,1249.3 L1869.9,1248.8 L1872.1,1248.2 L1874.2,1247.6 L1876.3,1247.1 L1878.4,1246.5 L1880.5,1245.9 L1882.6,1245.3 L1884.7,1244.8 L1886.8,1244.2 L1888.9,1243.6 L1891.0,1243.0 L1893.1,1242.4 L1895.2,1241.8 L1897.3,1241.1 L1899.5,1240.5 L1901.6,1239.9 L1903.7,1239.3 L1905.8,1238.7 L1907.9,1238.1 L1910.0,1237.5 L1912.1,1237.0 L1914.2,1236.4 L1916.3,1235.9 L1918.4,1235.3 L1920.5,1234.8 L1922.6,1234.3 L1924.8,1233.9 L1926.9,1233.4 L1929.0,1233.0 L1931.1,1232.6 L1933.2,1232.3 L1935.3,1231.9 L1937.4,1231.6 L1939.5,1231.4 L1941.6,1231.1 L1943.7,1230.9 L1945.8,1230.8 L1947.9,1230.7 L1950.0,1230.6 L1952.2,1230.6 L1954.3,1230.7 L1956.4,1230.7 L1958.5,1230.9 L1960.6,1231.0 L1962.7,1231.2 L1964.8,1231.5 L1966.9,1231.8 L1969.0,1232.1 L1971.1,1232.4 L1973.2,1232.8 L1975.3,1233.2 L1977.5,1233.6 L1979.6,1234.1 L1981.7,1234.5 L1983.8,1235.0 L1985.9,1235.5 L1988.0,1235.9 L1990.1,1236.4 L1992.2,1236.9 L1994.3,1237.4 L1996.4,1237.9 L1998.5,1238.4 L2000.6,1238.8 L2002.7,1239.3 L2004.9,1239.7 L2007.0,1240.1 L2009.1,1240.5 L2011.2,1240.9 L2013.3,1241.3 L2015.4,1241.6 L2017.5,1241.9 L2019.6,1242.1 L2021.7,1242.3" fill="none" stroke="#b0501a" stroke-width="5.3" stroke-linejoin="round"/>
<line x1="1760.33" y1="1273.80" x2="1760.33" y2="1239.61" stroke="#ff3a8c" stroke-width="3.2"/>
<line x1="1768.76" y1="1273.80" x2="1768.76" y2="1239.61" stroke="#a322ff" stroke-width="2.8"/>
<line x1="1903.67" y1="1273.80" x2="1903.67" y2="1239.61" stroke="#b0501a" stroke-width="2.2"/>
<path d="M1760.33,1239.61 L1810.92,1239.61" stroke="#06062a" stroke-width="3.4" stroke-dasharray="13.5 14.3" fill="none"/>
<path d="M1768.76,1239.61 L1810.92,1239.61" stroke="#06062a" stroke-width="3.4" stroke-dasharray="13.5 14.3" fill="none"/>
<path d="M1903.67,1239.61 L1810.92,1239.61" stroke="#06062a" stroke-width="3.4" stroke-dasharray="13.5 14.3" fill="none"/>
<line x1="1810.92" y1="1298.50" x2="1810.92" y2="753.10" stroke="#06062a" stroke-width="3.4" stroke-dasharray="13.5 14.3"/>
<line x1="118.10" y1="1977.90" x2="673.77" y2="1977.90" stroke="#bebebe" stroke-width="2.7"/>
<text x="86.70" y="1989.20" class="tk">0</text>
<line x1="118.10" y1="1870.80" x2="673.77" y2="1870.80" stroke="#bebebe" stroke-width="2.7"/>
<text x="68.62" y="1882.10" class="tk">10</text>
<line x1="118.10" y1="1763.70" x2="673.77" y2="1763.70" stroke="#bebebe" stroke-width="2.7"/>
<text x="68.62" y="1775.00" class="tk">20</text>
<line x1="118.10" y1="1656.60" x2="673.77" y2="1656.60" stroke="#bebebe" stroke-width="2.7"/>
<text x="68.62" y="1667.90" class="tk">30</text>
<line x1="118.10" y1="1549.50" x2="673.77" y2="1549.50" stroke="#bebebe" stroke-width="2.7"/>
<text x="68.62" y="1560.80" class="tk">40</text>
<line x1="118.10" y1="2002.60" x2="673.77" y2="2002.60" stroke="#06062a" stroke-width="3"/>
<line x1="143.40" y1="2004.10" x2="143.40" y2="2010.90" stroke="#3a3a3a" stroke-width="2.9"/>
<text x="125.14" y="2040.20" class="tk">20</text>
<line x1="227.72" y1="2004.10" x2="227.72" y2="2010.90" stroke="#3a3a3a" stroke-width="2.9"/>
<text x="209.66" y="2040.20" class="tk">30</text>
<line x1="312.04" y1="2004.10" x2="312.04" y2="2010.90" stroke="#3a3a3a" stroke-width="2.9"/>
<text x="294.23" y="2040.20" class="tk">40</text>
<line x1="396.36" y1="2004.10" x2="396.36" y2="2010.90" stroke="#3a3a3a" stroke-width="2.9"/>
<text x="378.27" y="2040.20" class="tk">50</text>
<line x1="480.68" y1="2004.10" x2="480.68" y2="2010.90" stroke="#3a3a3a" stroke-width="2.9"/>
<text x="462.41" y="2040.20" class="tk">60</text>
<line x1="565.00" y1="2004.10" x2="565.00" y2="2010.90" stroke="#3a3a3a" stroke-width="2.9"/>
<text x="546.73" y="2040.20" class="tk">70</text>
<line x1="649.32" y1="2004.10" x2="649.32" y2="2010.90" stroke="#3a3a3a" stroke-width="2.9"/>
<text x="631.17" y="2040.20" class="tk">80</text>
<text x="367.72" y="2076.90" class="tt">Age</text>
<text x="117.57" y="1434.00" class="tt">T2D</text>
<text transform="translate(25.20,1729.90) rotate(-90)" x="-206.80" class="tt">Annual incidence (per 1,000)</text>
<path d="M126.5,1971.7 L128.6,1971.7 L130.8,1971.7 L132.9,1971.7 L135.0,1971.6 L137.1,1971.6 L139.2,1971.5 L141.3,1971.5 L143.4,1971.4 L145.5,1971.3 L147.6,1971.2 L149.7,1971.1 L151.8,1971.0 L153.9,1970.8 L156.0,1970.7 L158.2,1970.5 L160.3,1970.4 L162.4,1970.2 L164.5,1970.0 L166.6,1969.8 L168.7,1969.6 L170.8,1969.4 L172.9,1969.2 L175.0,1968.9 L177.1,1968.7 L179.2,1968.4 L181.3,1968.2 L183.5,1967.9 L185.6,1967.6 L187.7,1967.4 L189.8,1967.1 L191.9,1966.8 L194.0,1966.5 L196.1,1966.1 L198.2,1965.8 L200.3,1965.5 L202.4,1965.2 L204.5,1964.8 L206.6,1964.5 L208.7,1964.1 L210.9,1963.8 L213.0,1963.4 L215.1,1963.0 L217.2,1962.6 L219.3,1962.3 L221.4,1961.9 L223.5,1961.5 L225.6,1961.1 L227.7,1960.7 L229.8,1960.3 L231.9,1959.9 L234.0,1959.4 L236.2,1959.0 L238.3,1958.6 L240.4,1958.2 L242.5,1957.7 L244.6,1957.3 L246.7,1956.9 L248.8,1956.4 L250.9,1956.0 L253.0,1955.5 L255.1,1955.1 L257.2,1954.6 L259.3,1954.2 L261.4,1953.7 L263.6,1953.3 L265.7,1952.8 L267.8,1952.4 L269.9,1951.9 L272.0,1951.4 L274.1,1950.9 L276.2,1950.4 L278.3,1949.9 L280.4,1949.4 L282.5,1948.9 L284.6,1948.4 L286.7,1947.9 L288.9,1947.3 L291.0,1946.8 L293.1,1946.2 L295.2,1945.6 L297.3,1945.0 L299.4,1944.4 L301.5,1943.7 L303.6,1943.1 L305.7,1942.4 L307.8,1941.7 L309.9,1941.0 L312.0,1940.3 L314.1,1939.5 L316.3,1938.7 L318.4,1937.9 L320.5,1937.1 L322.6,1936.3 L324.7,1935.4 L326.8,1934.5 L328.9,1933.6 L331.0,1932.7 L333.1,1931.7 L335.2,1930.7 L337.3,1929.7 L339.4,1928.7 L341.6,1927.7 L343.7,1926.6 L345.8,1925.6 L347.9,1924.5 L350.0,1923.4 L352.1,1922.3 L354.2,1921.2 L356.3,1920.1 L358.4,1918.9 L360.5,1917.8 L362.6,1916.6 L364.7,1915.5 L366.8,1914.3 L369.0,1913.1 L371.1,1912.0 L373.2,1910.8 L375.3,1909.6 L377.4,1908.4 L379.5,1907.2 L381.6,1906.0 L383.7,1904.9 L385.8,1903.7 L387.9,1902.5 L390.0,1901.3 L392.1,1900.1 L394.3,1899.0 L396.4,1897.8 L398.5,1896.7 L400.6,1895.5 L402.7,1894.4 L404.8,1893.3 L406.9,1892.1 L409.0,1891.0 L411.1,1889.9 L413.2,1888.8 L415.3,1887.8 L417.4,1886.7 L419.5,1885.7 L421.7,1884.6 L423.8,1883.6 L425.9,1882.6 L428.0,1881.6 L430.1,1880.6 L432.2,1879.7 L434.3,1878.7 L436.4,1877.8 L438.5,1876.9 L440.6,1876.0 L442.7,1875.2 L444.8,1874.3 L447.0,1873.5 L449.1,1872.7 L451.2,1871.9 L453.3,1871.1 L455.4,1870.4 L457.5,1869.7 L459.6,1869.0 L461.7,1868.3 L463.8,1867.6 L465.9,1867.0 L468.0,1866.4 L470.1,1865.8 L472.2,1865.3 L474.4,1864.8 L476.5,1864.3 L478.6,1863.8 L480.7,1863.4 L482.8,1862.9 L484.9,1862.6 L487.0,1862.2 L489.1,1861.9 L491.2,1861.6 L493.3,1861.3 L495.4,1861.1 L497.5,1860.9 L499.7,1860.8 L501.8,1860.6 L503.9,1860.5 L506.0,1860.5 L508.1,1860.5 L510.2,1860.5 L512.3,1860.5 L514.4,1860.6 L516.5,1860.7 L518.6,1860.9 L520.7,1861.1 L522.8,1861.3 L524.9,1861.6 L527.1,1861.9 L529.2,1862.3 L531.3,1862.7 L533.4,1863.1 L535.5,1863.6 L537.6,1864.1 L539.7,1864.6 L541.8,1865.2 L543.9,1865.7 L546.0,1866.3 L548.1,1867.0 L550.2,1867.6 L552.4,1868.3 L554.5,1869.0 L556.6,1869.7 L558.7,1870.4 L560.8,1871.1 L562.9,1871.9 L565.0,1872.6 L567.1,1873.4 L569.2,1874.2 L571.3,1874.9 L573.4,1875.7 L575.5,1876.5 L577.6,1877.3 L579.8,1878.1 L581.9,1878.8 L584.0,1879.6 L586.1,1880.4 L588.2,1881.1 L590.3,1881.9 L592.4,1882.6 L594.5,1883.4 L596.6,1884.1 L598.7,1884.8 L600.8,1885.5 L602.9,1886.2 L605.1,1886.9 L607.2,1887.6 L609.3,1888.2 L611.4,1888.9 L613.5,1889.5 L615.6,1890.2 L617.7,1890.8 L619.8,1891.4 L621.9,1891.9 L624.0,1892.5 L626.1,1893.1 L628.2,1893.6 L630.3,1894.1 L632.5,1894.6 L634.6,1895.1 L636.7,1895.5 L638.8,1895.9 L640.9,1896.3 L643.0,1896.7 L645.1,1897.1 L647.2,1897.4 L649.3,1897.7" fill="none" stroke="#19ffc4" stroke-width="5.3" stroke-linejoin="round"/>
<path d="M126.5,1968.9 L128.6,1968.1 L130.8,1967.4 L132.9,1966.7 L135.0,1966.0 L137.1,1965.3 L139.2,1964.6 L141.3,1963.9 L143.4,1963.3 L145.5,1962.6 L147.6,1961.9 L149.7,1961.3 L151.8,1960.6 L153.9,1959.9 L156.0,1959.3 L158.2,1958.6 L160.3,1958.0 L162.4,1957.3 L164.5,1956.7 L166.6,1956.0 L168.7,1955.3 L170.8,1954.6 L172.9,1954.0 L175.0,1953.3 L177.1,1952.6 L179.2,1951.9 L181.3,1951.1 L183.5,1950.4 L185.6,1949.7 L187.7,1948.9 L189.8,1948.2 L191.9,1947.4 L194.0,1946.6 L196.1,1945.8 L198.2,1944.9 L200.3,1944.1 L202.4,1943.2 L204.5,1942.4 L206.6,1941.4 L208.7,1940.5 L210.9,1939.6 L213.0,1938.6 L215.1,1937.6 L217.2,1936.6 L219.3,1935.5 L221.4,1934.4 L223.5,1933.3 L225.6,1932.2 L227.7,1931.0 L229.8,1929.9 L231.9,1928.6 L234.0,1927.4 L236.2,1926.1 L238.3,1924.8 L240.4,1923.4 L242.5,1922.0 L244.6,1920.6 L246.7,1919.1 L248.8,1917.6 L250.9,1916.0 L253.0,1914.4 L255.1,1912.8 L257.2,1911.1 L259.3,1909.4 L261.4,1907.7 L263.6,1905.9 L265.7,1904.0 L267.8,1902.1 L269.9,1900.2 L272.0,1898.2 L274.1,1896.2 L276.2,1894.2 L278.3,1892.1 L280.4,1889.9 L282.5,1887.8 L284.6,1885.6 L286.7,1883.3 L288.9,1881.1 L291.0,1878.8 L293.1,1876.4 L295.2,1874.0 L297.3,1871.6 L299.4,1869.2 L301.5,1866.7 L303.6,1864.2 L305.7,1861.6 L307.8,1859.1 L309.9,1856.5 L312.0,1853.8 L314.1,1851.2 L316.3,1848.5 L318.4,1845.8 L320.5,1843.1 L322.6,1840.3 L324.7,1837.5 L326.8,1834.7 L328.9,1831.8 L331.0,1829.0 L333.1,1826.1 L335.2,1823.2 L337.3,1820.3 L339.4,1817.3 L341.6,1814.3 L343.7,1811.3 L345.8,1808.3 L347.9,1805.3 L350.0,1802.2 L352.1,1799.2 L354.2,1796.1 L356.3,1793.0 L358.4,1789.9 L360.5,1786.7 L362.6,1783.6 L364.7,1780.4 L366.8,1777.3 L369.0,1774.1 L371.1,1770.9 L373.2,1767.7 L375.3,1764.5 L377.4,1761.2 L379.5,1758.0 L381.6,1754.8 L383.7,1751.5 L385.8,1748.2 L387.9,1745.0 L390.0,1741.7 L392.1,1738.5 L394.3,1735.2 L396.4,1731.9 L398.5,1728.6 L400.6,1725.4 L402.7,1722.1 L404.8,1718.8 L406.9,1715.6 L409.0,1712.3 L411.1,1709.1 L413.2,1705.8 L415.3,1702.6 L417.4,1699.4 L419.5,1696.2 L421.7,1693.0 L423.8,1689.9 L425.9,1686.8 L428.0,1683.7 L430.1,1680.7 L432.2,1677.8 L434.3,1674.9 L436.4,1672.0 L438.5,1669.2 L440.6,1666.5 L442.7,1663.9 L444.8,1661.3 L447.0,1658.9 L449.1,1656.5 L451.2,1654.1 L453.3,1651.9 L455.4,1649.7 L457.5,1647.7 L459.6,1645.6 L461.7,1643.7 L463.8,1641.9 L465.9,1640.1 L468.0,1638.4 L470.1,1636.8 L472.2,1635.3 L474.4,1633.9 L476.5,1632.5 L478.6,1631.2 L480.7,1630.1 L482.8,1629.0 L484.9,1627.9 L487.0,1627.0 L489.1,1626.2 L491.2,1625.4 L493.3,1624.7 L495.4,1624.1 L497.5,1623.7 L499.7,1623.2 L501.8,1622.9 L503.9,1622.7 L506.0,1622.6 L508.1,1622.5 L510.2,1622.5 L512.3,1622.7 L514.4,1622.9 L516.5,1623.2 L518.6,1623.6 L520.7,1624.1 L522.8,1624.7 L524.9,1625.4 L527.1,1626.2 L529.2,1627.0 L531.3,1628.0 L533.4,1629.0 L535.5,1630.1 L537.6,1631.2 L539.7,1632.5 L541.8,1633.8 L543.9,1635.2 L546.0,1636.6 L548.1,1638.1 L550.2,1639.7 L552.4,1641.3 L554.5,1643.0 L556.6,1644.7 L558.7,1646.5 L560.8,1648.3 L562.9,1650.2 L565.0,1652.0 L567.1,1654.0 L569.2,1655.9 L571.3,1657.9 L573.4,1659.9 L575.5,1662.0 L577.6,1664.1 L579.8,1666.1 L581.9,1668.2 L584.0,1670.3 L586.1,1672.5 L588.2,1674.6 L590.3,1676.7 L592.4,1678.9 L594.5,1681.0 L596.6,1683.1 L598.7,1685.3 L600.8,1687.4 L602.9,1689.5 L605.1,1691.6 L607.2,1693.7 L609.3,1695.8 L611.4,1697.8 L613.5,1699.9 L615.6,1701.9 L617.7,1704.0 L619.8,1706.0 L621.9,1708.1 L624.0,1710.1 L626.1,1712.2 L628.2,1714.2 L630.3,1716.2 L632.5,1718.2 L634.6,1720.3 L636.7,1722.3 L638.8,1724.3 L640.9,1726.3 L643.0,1728.4 L645.1,1730.4 L647.2,1732.5 L649.3,1734.5" fill="none" stroke="#a322ff" stroke-width="5.3" stroke-linejoin="round"/>
<path d="M126.5,1962.4 L128.6,1961.8 L130.8,1961.2 L132.9,1960.6 L135.0,1960.0 L137.1,1959.4 L139.2,1958.7 L141.3,1958.1 L143.4,1957.5 L145.5,1956.8 L147.6,1956.2 L149.7,1955.5 L151.8,1954.8 L153.9,1954.1 L156.0,1953.4 L158.2,1952.7 L160.3,1952.0 L162.4,1951.3 L164.5,1950.5 L166.6,1949.7 L168.7,1948.9 L170.8,1948.1 L172.9,1947.3 L175.0,1946.5 L177.1,1945.6 L179.2,1944.7 L181.3,1943.8 L183.5,1942.9 L185.6,1941.9 L187.7,1940.9 L189.8,1939.9 L191.9,1938.9 L194.0,1937.9 L196.1,1936.8 L198.2,1935.7 L200.3,1934.5 L202.4,1933.4 L204.5,1932.2 L206.6,1930.9 L208.7,1929.6 L210.9,1928.3 L213.0,1927.0 L215.1,1925.6 L217.2,1924.1 L219.3,1922.6 L221.4,1921.1 L223.5,1919.5 L225.6,1917.9 L227.7,1916.2 L229.8,1914.5 L231.9,1912.7 L234.0,1910.9 L236.2,1909.0 L238.3,1907.0 L240.4,1905.0 L242.5,1903.0 L244.6,1900.9 L246.7,1898.7 L248.8,1896.5 L250.9,1894.3 L253.0,1892.0 L255.1,1889.7 L257.2,1887.3 L259.3,1884.9 L261.4,1882.4 L263.6,1879.9 L265.7,1877.4 L267.8,1874.8 L269.9,1872.2 L272.0,1869.5 L274.1,1866.8 L276.2,1864.0 L278.3,1861.3 L280.4,1858.4 L282.5,1855.6 L284.6,1852.7 L286.7,1849.8 L288.9,1846.8 L291.0,1843.8 L293.1,1840.7 L295.2,1837.7 L297.3,1834.6 L299.4,1831.4 L301.5,1828.2 L303.6,1825.0 L305.7,1821.8 L307.8,1818.5 L309.9,1815.2 L312.0,1811.8 L314.1,1808.4 L316.3,1805.0 L318.4,1801.6 L320.5,1798.1 L322.6,1794.5 L324.7,1790.9 L326.8,1787.3 L328.9,1783.6 L331.0,1779.9 L333.1,1776.1 L335.2,1772.3 L337.3,1768.3 L339.4,1764.3 L341.6,1760.3 L343.7,1756.2 L345.8,1752.0 L347.9,1747.8 L350.0,1743.5 L352.1,1739.1 L354.2,1734.7 L356.3,1730.2 L358.4,1725.7 L360.5,1721.1 L362.6,1716.4 L364.7,1711.7 L366.8,1707.0 L369.0,1702.2 L371.1,1697.3 L373.2,1692.4 L375.3,1687.5 L377.4,1682.6 L379.5,1677.6 L381.6,1672.6 L383.7,1667.6 L385.8,1662.6 L387.9,1657.6 L390.0,1652.5 L392.1,1647.5 L394.3,1642.5 L396.4,1637.5 L398.5,1632.6 L400.6,1627.7 L402.7,1622.8 L404.8,1617.9 L406.9,1613.1 L409.0,1608.3 L411.1,1603.6 L413.2,1598.9 L415.3,1594.3 L417.4,1589.7 L419.5,1585.2 L421.7,1580.8 L423.8,1576.5 L425.9,1572.2 L428.0,1568.0 L430.1,1563.9 L432.2,1559.8 L434.3,1555.9 L436.4,1552.0 L438.5,1548.2 L440.6,1544.6 L442.7,1541.0 L444.8,1537.5 L447.0,1534.2 L449.1,1530.9 L451.2,1527.7 L453.3,1524.7 L455.4,1521.7 L457.5,1518.8 L459.6,1516.1 L461.7,1513.4 L463.8,1510.9 L465.9,1508.5 L468.0,1506.2 L470.1,1503.9 L472.2,1501.8 L474.4,1499.8 L476.5,1498.0 L478.6,1496.2 L480.7,1494.5 L482.8,1493.0 L484.9,1491.5 L487.0,1490.2 L489.1,1489.0 L491.2,1487.9 L493.3,1486.9 L495.4,1486.1 L497.5,1485.3 L499.7,1484.7 L501.8,1484.2 L503.9,1483.8 L506.0,1483.5 L508.1,1483.4 L510.2,1483.4 L512.3,1483.5 L514.4,1483.7 L516.5,1484.0 L518.6,1484.5 L520.7,1485.1 L522.8,1485.8 L524.9,1486.7 L527.1,1487.6 L529.2,1488.7 L531.3,1489.9 L533.4,1491.2 L535.5,1492.6 L537.6,1494.1 L539.7,1495.7 L541.8,1497.4 L543.9,1499.2 L546.0,1501.1 L548.1,1503.1 L550.2,1505.2 L552.4,1507.3 L554.5,1509.6 L556.6,1511.9 L558.7,1514.3 L560.8,1516.7 L562.9,1519.2 L565.0,1521.8 L567.1,1524.4 L569.2,1527.1 L571.3,1529.9 L573.4,1532.6 L575.5,1535.5 L577.6,1538.4 L579.8,1541.3 L581.9,1544.2 L584.0,1547.2 L586.1,1550.2 L588.2,1553.3 L590.3,1556.3 L592.4,1559.4 L594.5,1562.5 L596.6,1565.6 L598.7,1568.7 L600.8,1571.9 L602.9,1575.0 L605.1,1578.1 L607.2,1581.3 L609.3,1584.4 L611.4,1587.5 L613.5,1590.6 L615.6,1593.7 L617.7,1596.8 L619.8,1599.8 L621.9,1602.9 L624.0,1605.8 L626.1,1608.8 L628.2,1611.7 L630.3,1614.6 L632.5,1617.5 L634.6,1620.3 L636.7,1623.0 L638.8,1625.7 L640.9,1628.4 L643.0,1630.9 L645.1,1633.5 L647.2,1635.9 L649.3,1638.3" fill="none" stroke="#ff3a8c" stroke-width="5.3" stroke-linejoin="round"/>
<path d="M126.5,1974.4 L128.6,1974.5 L130.8,1974.7 L132.9,1974.8 L135.0,1974.8 L137.1,1974.9 L139.2,1975.0 L141.3,1975.1 L143.4,1975.2 L145.5,1975.2 L147.6,1975.3 L149.7,1975.3 L151.8,1975.3 L153.9,1975.4 L156.0,1975.4 L158.2,1975.4 L160.3,1975.4 L162.4,1975.4 L164.5,1975.4 L166.6,1975.4 L168.7,1975.4 L170.8,1975.4 L172.9,1975.3 L175.0,1975.3 L177.1,1975.3 L179.2,1975.2 L181.3,1975.2 L183.5,1975.1 L185.6,1975.0 L187.7,1975.0 L189.8,1974.9 L191.9,1974.8 L194.0,1974.7 L196.1,1974.6 L198.2,1974.5 L200.3,1974.4 L202.4,1974.3 L204.5,1974.2 L206.6,1974.1 L208.7,1974.0 L210.9,1973.8 L213.0,1973.7 L215.1,1973.6 L217.2,1973.4 L219.3,1973.3 L221.4,1973.1 L223.5,1973.0 L225.6,1972.8 L227.7,1972.6 L229.8,1972.5 L231.9,1972.3 L234.0,1972.1 L236.2,1971.9 L238.3,1971.8 L240.4,1971.6 L242.5,1971.4 L244.6,1971.2 L246.7,1971.0 L248.8,1970.8 L250.9,1970.5 L253.0,1970.3 L255.1,1970.1 L257.2,1969.9 L259.3,1969.7 L261.4,1969.4 L263.6,1969.2 L265.7,1969.0 L267.8,1968.7 L269.9,1968.5 L272.0,1968.3 L274.1,1968.0 L276.2,1967.8 L278.3,1967.5 L280.4,1967.2 L282.5,1967.0 L284.6,1966.7 L286.7,1966.5 L288.9,1966.2 L291.0,1965.9 L293.1,1965.7 L295.2,1965.4 L297.3,1965.1 L299.4,1964.8 L301.5,1964.6 L303.6,1964.3 L305.7,1964.0 L307.8,1963.7 L309.9,1963.4 L312.0,1963.1 L314.1,1962.8 L316.3,1962.5 L318.4,1962.3 L320.5,1962.0 L322.6,1961.7 L324.7,1961.4 L326.8,1961.1 L328.9,1960.8 L331.0,1960.5 L333.1,1960.2 L335.2,1959.9 L337.3,1959.5 L339.4,1959.2 L341.6,1958.9 L343.7,1958.6 L345.8,1958.3 L347.9,1958.0 L350.0,1957.7 L352.1,1957.4 L354.2,1957.1 L356.3,1956.8 L358.4,1956.5 L360.5,1956.2 L362.6,1955.8 L364.7,1955.5 L366.8,1955.2 L369.0,1954.9 L371.1,1954.6 L373.2,1954.3 L375.3,1954.0 L377.4,1953.7 L379.5,1953.4 L381.6,1953.1 L383.7,1952.7 L385.8,1952.4 L387.9,1952.1 L390.0,1951.8 L392.1,1951.5 L394.3,1951.2 L396.4,1950.9 L398.5,1950.6 L400.6,1950.3 L402.7,1950.0 L404.8,1949.7 L406.9,1949.4 L409.0,1949.1 L411.1,1948.8 L413.2,1948.5 L415.3,1948.2 L417.4,1947.9 L419.5,1947.7 L421.7,1947.4 L423.8,1947.1 L425.9,1946.8 L428.0,1946.5 L430.1,1946.3 L432.2,1946.0 L434.3,1945.7 L436.4,1945.5 L438.5,1945.2 L440.6,1945.0 L442.7,1944.7 L444.8,1944.5 L447.0,1944.3 L449.1,1944.0 L451.2,1943.8 L453.3,1943.6 L455.4,1943.4 L457.5,1943.1 L459.6,1942.9 L461.7,1942.7 L463.8,1942.5 L465.9,1942.4 L468.0,1942.2 L470.1,1942.0 L472.2,1941.8 L474.4,1941.7 L476.5,1941.5 L478.6,1941.4 L480.7,1941.2 L482.8,1941.1 L484.9,1941.0 L487.0,1940.8 L489.1,1940.7 L491.2,1940.6 L493.3,1940.5 L495.4,1940.4 L497.5,1940.3 L499.7,1940.3 L501.8,1940.2 L503.9,1940.1 L506.0,1940.1 L508.1,1940.0 L510.2,1940.0 L512.3,1940.0 L514.4,1939.9 L516.5,1939.9 L518.6,1939.9 L520.7,1939.9 L522.8,1939.9 L524.9,1939.9 L527.1,1939.9 L529.2,1940.0 L531.3,1940.0 L533.4,1940.0 L535.5,1940.1 L537.6,1940.2 L539.7,1940.2 L541.8,1940.3 L543.9,1940.4 L546.0,1940.5 L548.1,1940.6 L550.2,1940.7 L552.4,1940.8 L554.5,1940.9 L556.6,1941.1 L558.7,1941.2 L560.8,1941.3 L562.9,1941.5 L565.0,1941.6 L567.1,1941.8 L569.2,1942.0 L571.3,1942.2 L573.4,1942.4 L575.5,1942.5 L577.6,1942.7 L579.8,1943.0 L581.9,1943.2 L584.0,1943.4 L586.1,1943.6 L588.2,1943.8 L590.3,1944.1 L592.4,1944.3 L594.5,1944.6 L596.6,1944.8 L598.7,1945.1 L600.8,1945.4 L602.9,1945.7 L605.1,1945.9 L607.2,1946.2 L609.3,1946.5 L611.4,1946.8 L613.5,1947.1 L615.6,1947.4 L617.7,1947.8 L619.8,1948.1 L621.9,1948.4 L624.0,1948.8 L626.1,1949.1 L628.2,1949.4 L630.3,1949.8 L632.5,1950.1 L634.6,1950.5 L636.7,1950.9 L638.8,1951.2 L640.9,1951.6 L643.0,1952.0 L645.1,1952.4 L647.2,1952.8 L649.3,1953.2" fill="none" stroke="#b0501a" stroke-width="5.3" stroke-linejoin="round"/>
<line x1="160.26" y1="1977.90" x2="160.26" y2="1953.05" stroke="#ff3a8c" stroke-width="3.2"/>
<line x1="185.56" y1="1977.90" x2="185.56" y2="1953.05" stroke="#a322ff" stroke-width="2.8"/>
<line x1="396.36" y1="1977.90" x2="396.36" y2="1953.05" stroke="#b0501a" stroke-width="2.2"/>
<path d="M160.26,1953.05 L269.88,1953.05" stroke="#06062a" stroke-width="3.4" stroke-dasharray="13.5 14.3" fill="none"/>
<path d="M185.56,1953.05 L269.88,1953.05" stroke="#06062a" stroke-width="3.4" stroke-dasharray="13.5 14.3" fill="none"/>
<path d="M396.36,1953.05 L269.88,1953.05" stroke="#06062a" stroke-width="3.4" stroke-dasharray="13.5 14.3" fill="none"/>
<line x1="269.88" y1="2002.60" x2="269.88" y2="1457.20" stroke="#06062a" stroke-width="3.4" stroke-dasharray="13.5 14.3"/>
<line x1="580.00" y1="2163.90" x2="625.10" y2="2163.90" stroke="#19ffc4" stroke-width="5.8"/>
<text x="646.80" y="2174.00" class="lg">General population</text>
<line x1="1028.30" y1="2163.90" x2="1073.40" y2="2163.90" stroke="#ff3a8c" stroke-width="5.8"/>
<text x="1095.10" y="2174.00" class="lg">Very high PRS risk group, OR&gt;3</text>
<line x1="580.00" y1="2236.60" x2="625.10" y2="2236.60" stroke="#a322ff" stroke-width="5.8"/>
<text x="646.80" y="2246.70" class="lg">High PRS risk group, OR&gt;2</text>
<line x1="1028.30" y1="2236.60" x2="1073.40" y2="2236.60" stroke="#b0501a" stroke-width="5.8"/>
<text x="1095.10" y="2246.70" class="lg">Low PRS risk group, OR&lt;0.5</text>
</svg>
</body></html>
